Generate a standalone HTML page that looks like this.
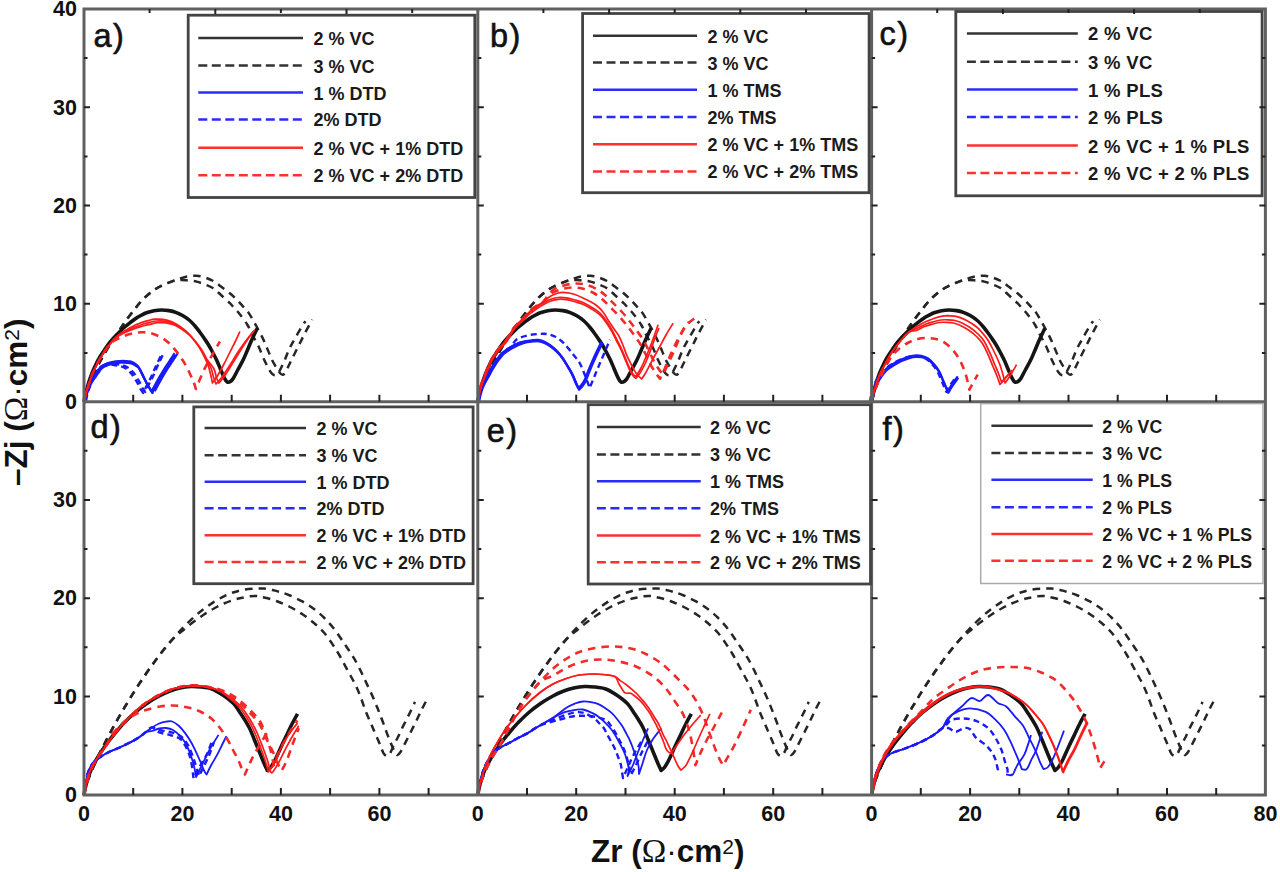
<!DOCTYPE html>
<html><head><meta charset="utf-8"><style>
html,body{margin:0;padding:0;background:#fff;overflow:hidden;width:1280px;height:872px;}
svg{display:block;}
</style></head><body>
<svg width="1280" height="872" viewBox="0 0 1280 872">
<rect width="1280" height="872" fill="#fff"/>
<path d="M84.0 401.7C84.5 399.9 85.8 394.6 87.0 391.0C88.2 387.4 89.5 383.7 91.0 380.0C92.5 376.3 94.2 372.7 96.0 369.0C97.8 365.3 99.8 361.8 102.0 358.0C104.2 354.2 106.3 350.3 109.0 346.0C111.7 341.7 115.5 336.0 118.2 332.0C120.9 328.0 122.5 325.5 125.0 322.0C127.5 318.5 130.5 314.4 133.2 311.0C135.9 307.6 138.2 304.5 141.0 301.5C143.8 298.5 146.6 295.7 149.8 293.2C153.0 290.7 156.4 288.4 160.0 286.5C163.6 284.6 168.1 282.9 171.4 281.6C174.7 280.3 177.2 279.4 180.0 278.5C182.8 277.6 185.2 276.8 188.0 276.4C190.8 275.9 193.8 275.6 196.6 275.8C199.4 276.0 202.2 276.6 205.0 277.5C207.8 278.4 210.6 279.5 213.3 281.0C216.0 282.5 218.2 284.4 221.0 286.5C223.8 288.6 227.2 291.1 229.9 293.3C232.6 295.6 234.8 297.8 237.0 300.0C239.2 302.2 241.3 304.5 243.2 306.6C245.1 308.7 246.4 309.7 248.3 312.4C250.2 315.1 252.3 318.8 254.5 322.7C256.7 326.6 259.6 332.0 261.7 336.1C263.8 340.2 265.1 343.5 266.8 347.5C268.5 351.5 270.5 356.6 272.0 359.9C273.5 363.1 274.8 364.9 276.0 367.0C277.2 369.1 278.4 371.2 279.5 372.5C280.6 373.8 281.5 374.8 282.5 374.8C283.5 374.8 284.3 374.1 285.4 372.5C286.5 370.9 287.8 367.4 289.0 365.0C290.2 362.6 291.0 361.1 292.6 357.8C294.2 354.5 296.7 349.5 298.8 345.4C300.9 341.3 302.8 337.3 305.0 333.0C307.2 328.7 311.1 321.8 312.3 319.6" fill="none" stroke="#262626" stroke-width="2.5" stroke-dasharray="7.5 6" stroke-linejoin="round" stroke-linecap="butt"/>
<path d="M84.0 401.7C84.5 399.9 85.8 394.6 87.0 391.0C88.2 387.4 89.5 383.7 91.0 380.0C92.5 376.3 94.2 372.7 96.0 369.0C97.8 365.3 99.8 361.8 102.0 358.0C104.2 354.2 106.3 350.3 109.0 346.0C111.7 341.7 115.5 336.0 118.2 332.0C120.9 328.0 122.5 325.5 125.0 322.0C127.5 318.5 130.5 314.4 133.2 311.0C135.9 307.6 138.2 304.5 141.0 301.5C143.8 298.5 146.6 295.7 149.8 293.2C153.0 290.7 156.4 288.4 160.0 286.5C163.6 284.6 168.1 282.7 171.4 281.6C174.7 280.5 177.2 280.2 180.0 280.0C182.8 279.8 185.2 280.2 188.0 280.5C190.8 280.8 193.8 280.9 196.6 281.6C199.4 282.3 202.2 283.4 205.0 284.5C207.8 285.6 210.6 286.6 213.3 288.3C216.0 290.1 218.2 292.5 221.0 295.0C223.8 297.5 227.6 300.9 229.9 303.2C232.2 305.5 233.3 307.1 235.0 309.0C236.7 310.9 238.0 311.9 240.0 314.5C242.0 317.1 245.1 321.1 247.2 324.5C249.3 327.9 250.6 331.3 252.5 335.0C254.4 338.7 256.7 342.5 258.6 346.5C260.5 350.5 262.1 355.3 263.7 358.8C265.3 362.3 266.8 365.2 268.0 367.5C269.2 369.8 270.0 371.2 271.0 372.5C272.0 373.8 273.0 374.7 274.0 375.0C275.0 375.3 276.1 375.2 277.0 374.5C277.9 373.8 278.3 373.3 279.5 371.0C280.7 368.7 282.7 364.6 284.4 360.9C286.1 357.1 287.6 352.4 289.5 348.5C291.4 344.6 293.4 341.1 295.7 337.2C297.9 333.2 301.4 327.5 303.0 324.8C304.6 322.1 305.1 321.8 305.5 321.2" fill="none" stroke="#262626" stroke-width="2.5" stroke-dasharray="7.5 6" stroke-linejoin="round" stroke-linecap="butt"/>
<path d="M477.8 401.7C478.3 399.9 479.6 394.6 480.8 391.0C482.0 387.4 483.3 383.7 484.8 380.0C486.3 376.3 488.0 372.7 489.8 369.0C491.6 365.3 493.6 361.8 495.8 358.0C498.0 354.2 500.1 350.3 502.8 346.0C505.5 341.7 509.3 336.0 512.0 332.0C514.7 328.0 516.3 325.5 518.8 322.0C521.3 318.5 524.3 314.4 527.0 311.0C529.7 307.6 532.0 304.5 534.8 301.5C537.6 298.5 540.4 295.7 543.6 293.2C546.8 290.7 550.2 288.4 553.8 286.5C557.4 284.6 561.9 282.9 565.2 281.6C568.5 280.3 571.0 279.4 573.8 278.5C576.6 277.6 579.0 276.8 581.8 276.4C584.6 275.9 587.6 275.6 590.4 275.8C593.2 276.0 596.0 276.6 598.8 277.5C601.6 278.4 604.4 279.5 607.1 281.0C609.8 282.5 612.0 284.4 614.8 286.5C617.6 288.6 621.0 291.1 623.7 293.3C626.4 295.6 628.6 297.8 630.8 300.0C633.0 302.2 635.1 304.5 637.0 306.6C638.9 308.7 640.2 309.7 642.1 312.4C644.0 315.1 646.1 318.8 648.3 322.7C650.5 326.6 653.5 332.0 655.5 336.1C657.5 340.2 658.9 343.5 660.6 347.5C662.3 351.5 664.3 356.6 665.8 359.9C667.3 363.1 668.5 364.9 669.8 367.0C671.0 369.1 672.2 371.2 673.3 372.5C674.4 373.8 675.3 374.8 676.3 374.8C677.3 374.8 678.1 374.1 679.2 372.5C680.3 370.9 681.6 367.4 682.8 365.0C684.0 362.6 684.8 361.1 686.4 357.8C688.0 354.5 690.5 349.5 692.6 345.4C694.7 341.3 696.5 337.3 698.8 333.0C701.0 328.7 704.9 321.8 706.1 319.6" fill="none" stroke="#262626" stroke-width="2.5" stroke-dasharray="7.5 6" stroke-linejoin="round" stroke-linecap="butt"/>
<path d="M477.8 401.7C478.3 399.9 479.6 394.6 480.8 391.0C482.0 387.4 483.3 383.7 484.8 380.0C486.3 376.3 488.0 372.7 489.8 369.0C491.6 365.3 493.6 361.8 495.8 358.0C498.0 354.2 500.1 350.3 502.8 346.0C505.5 341.7 509.3 336.0 512.0 332.0C514.7 328.0 516.3 325.5 518.8 322.0C521.3 318.5 524.3 314.4 527.0 311.0C529.7 307.6 532.0 304.5 534.8 301.5C537.6 298.5 540.4 295.7 543.6 293.2C546.8 290.7 550.2 288.4 553.8 286.5C557.4 284.6 561.9 282.7 565.2 281.6C568.5 280.5 571.0 280.2 573.8 280.0C576.6 279.8 579.0 280.2 581.8 280.5C584.6 280.8 587.6 280.9 590.4 281.6C593.2 282.3 596.0 283.4 598.8 284.5C601.6 285.6 604.4 286.6 607.1 288.3C609.8 290.1 612.0 292.5 614.8 295.0C617.6 297.5 621.4 300.9 623.7 303.2C626.0 305.5 627.1 307.1 628.8 309.0C630.5 310.9 631.8 311.9 633.8 314.5C635.8 317.1 638.9 321.1 641.0 324.5C643.1 327.9 644.4 331.3 646.3 335.0C648.2 338.7 650.5 342.5 652.4 346.5C654.3 350.5 655.9 355.3 657.5 358.8C659.1 362.3 660.6 365.2 661.8 367.5C663.0 369.8 663.8 371.2 664.8 372.5C665.8 373.8 666.8 374.7 667.8 375.0C668.8 375.3 669.9 375.2 670.8 374.5C671.7 373.8 672.1 373.3 673.3 371.0C674.5 368.7 676.5 364.6 678.2 360.9C679.9 357.1 681.4 352.4 683.3 348.5C685.2 344.6 687.2 341.1 689.5 337.2C691.8 333.2 695.2 327.5 696.8 324.8C698.4 322.1 698.9 321.8 699.3 321.2" fill="none" stroke="#262626" stroke-width="2.5" stroke-dasharray="7.5 6" stroke-linejoin="round" stroke-linecap="butt"/>
<path d="M871.6 401.7C872.1 399.9 873.4 394.6 874.6 391.0C875.8 387.4 877.1 383.7 878.6 380.0C880.1 376.3 881.8 372.7 883.6 369.0C885.4 365.3 887.4 361.8 889.6 358.0C891.8 354.2 893.9 350.3 896.6 346.0C899.3 341.7 903.1 336.0 905.8 332.0C908.5 328.0 910.1 325.5 912.6 322.0C915.1 318.5 918.1 314.4 920.8 311.0C923.5 307.6 925.8 304.5 928.6 301.5C931.4 298.5 934.2 295.7 937.4 293.2C940.6 290.7 944.0 288.4 947.6 286.5C951.2 284.6 955.7 282.9 959.0 281.6C962.3 280.3 964.8 279.4 967.6 278.5C970.4 277.6 972.8 276.8 975.6 276.4C978.4 275.9 981.4 275.6 984.2 275.8C987.0 276.0 989.8 276.6 992.6 277.5C995.4 278.4 998.2 279.5 1000.9 281.0C1003.6 282.5 1005.8 284.4 1008.6 286.5C1011.4 288.6 1014.8 291.1 1017.5 293.3C1020.2 295.6 1022.4 297.8 1024.6 300.0C1026.8 302.2 1028.9 304.5 1030.8 306.6C1032.7 308.7 1034.0 309.7 1035.9 312.4C1037.8 315.1 1039.9 318.8 1042.1 322.7C1044.3 326.6 1047.2 332.0 1049.3 336.1C1051.3 340.2 1052.7 343.5 1054.4 347.5C1056.1 351.5 1058.1 356.6 1059.6 359.9C1061.1 363.1 1062.3 364.9 1063.6 367.0C1064.8 369.1 1066.0 371.2 1067.1 372.5C1068.2 373.8 1069.1 374.8 1070.1 374.8C1071.1 374.8 1071.9 374.1 1073.0 372.5C1074.1 370.9 1075.4 367.4 1076.6 365.0C1077.8 362.6 1078.6 361.1 1080.2 357.8C1081.8 354.5 1084.3 349.5 1086.4 345.4C1088.5 341.3 1090.3 337.3 1092.6 333.0C1094.8 328.7 1098.7 321.8 1099.9 319.6" fill="none" stroke="#262626" stroke-width="2.5" stroke-dasharray="7.5 6" stroke-linejoin="round" stroke-linecap="butt"/>
<path d="M871.6 401.7C872.1 399.9 873.4 394.6 874.6 391.0C875.8 387.4 877.1 383.7 878.6 380.0C880.1 376.3 881.8 372.7 883.6 369.0C885.4 365.3 887.4 361.8 889.6 358.0C891.8 354.2 893.9 350.3 896.6 346.0C899.3 341.7 903.1 336.0 905.8 332.0C908.5 328.0 910.1 325.5 912.6 322.0C915.1 318.5 918.1 314.4 920.8 311.0C923.5 307.6 925.8 304.5 928.6 301.5C931.4 298.5 934.2 295.7 937.4 293.2C940.6 290.7 944.0 288.4 947.6 286.5C951.2 284.6 955.7 282.7 959.0 281.6C962.3 280.5 964.8 280.2 967.6 280.0C970.4 279.8 972.8 280.2 975.6 280.5C978.4 280.8 981.4 280.9 984.2 281.6C987.0 282.3 989.8 283.4 992.6 284.5C995.4 285.6 998.2 286.6 1000.9 288.3C1003.6 290.1 1005.8 292.5 1008.6 295.0C1011.4 297.5 1015.2 300.9 1017.5 303.2C1019.8 305.5 1020.9 307.1 1022.6 309.0C1024.3 310.9 1025.6 311.9 1027.6 314.5C1029.6 317.1 1032.7 321.1 1034.8 324.5C1036.9 327.9 1038.2 331.3 1040.1 335.0C1042.0 338.7 1044.3 342.5 1046.2 346.5C1048.1 350.5 1049.7 355.3 1051.3 358.8C1052.9 362.3 1054.4 365.2 1055.6 367.5C1056.8 369.8 1057.6 371.2 1058.6 372.5C1059.6 373.8 1060.6 374.7 1061.6 375.0C1062.6 375.3 1063.7 375.2 1064.6 374.5C1065.5 373.8 1065.9 373.3 1067.1 371.0C1068.3 368.7 1070.3 364.6 1072.0 360.9C1073.7 357.1 1075.2 352.4 1077.1 348.5C1079.0 344.6 1081.0 341.1 1083.3 337.2C1085.5 333.2 1089.0 327.5 1090.6 324.8C1092.2 322.1 1092.7 321.8 1093.1 321.2" fill="none" stroke="#262626" stroke-width="2.5" stroke-dasharray="7.5 6" stroke-linejoin="round" stroke-linecap="butt"/>
<path d="M84.0 795.0C84.3 793.4 85.2 788.5 86.0 785.5C86.8 782.5 87.7 780.6 89.0 777.2C90.3 773.9 92.3 769.1 94.0 765.4C95.7 761.6 97.3 758.2 99.0 754.7C100.7 751.2 102.0 748.6 104.0 744.7C106.0 740.8 108.7 735.6 111.0 731.3C113.3 727.0 115.7 722.8 118.0 718.7C120.3 714.6 122.7 710.6 125.0 706.7C127.3 702.8 129.7 699.0 132.0 695.2C134.3 691.5 136.7 687.8 139.0 684.2C141.3 680.6 143.7 677.2 146.0 673.8C148.3 670.4 150.7 667.1 153.0 663.9C155.3 660.7 157.5 657.7 160.0 654.5C162.5 651.3 165.3 647.7 168.0 644.5C170.7 641.3 173.3 638.2 176.0 635.2C178.7 632.2 181.0 629.7 184.0 626.7C187.0 623.7 190.7 620.1 194.0 617.1C197.3 614.1 200.7 611.3 204.0 608.8C207.3 606.3 210.7 604.0 214.0 601.9C217.3 599.8 220.7 597.9 224.0 596.3C227.3 594.7 230.7 593.3 234.0 592.2C237.3 591.1 240.3 590.2 244.0 589.6C247.7 589.0 252.7 588.8 256.0 588.6C259.3 588.4 261.3 588.4 264.0 588.6C266.7 588.8 269.3 589.4 272.0 590.0C274.7 590.6 277.0 591.1 280.0 592.0C283.0 592.9 286.2 593.9 290.0 595.5C293.8 597.1 298.8 599.5 302.8 601.7C306.8 604.0 310.5 606.4 314.0 609.0C317.5 611.6 320.7 614.4 323.9 617.5C327.1 620.6 330.0 623.8 333.0 627.5C336.0 631.2 339.4 636.4 341.9 640.0C344.4 643.6 346.0 646.0 348.0 649.0C350.0 652.0 351.8 654.5 353.8 657.9C355.8 661.3 358.0 665.5 360.0 669.5C362.0 673.5 363.8 677.5 365.8 681.7C367.8 686.0 370.0 690.5 372.0 695.0C374.0 699.5 375.9 704.3 377.7 708.6C379.4 712.9 381.0 717.0 382.5 721.0C384.0 725.0 385.4 729.1 386.6 732.4C387.8 735.6 388.8 738.0 389.8 740.5C390.8 743.0 391.7 745.3 392.6 747.3C393.5 749.3 394.2 751.2 395.0 752.5C395.8 753.8 396.6 755.1 397.5 755.0C398.4 754.9 399.3 753.8 400.5 752.0C401.7 750.2 402.8 747.5 404.5 744.3C406.2 741.0 408.5 736.5 410.5 732.5C412.5 728.5 414.7 724.2 416.5 720.5C418.3 716.8 419.8 713.5 421.5 710.0C423.2 706.5 426.0 701.3 426.9 699.6" fill="none" stroke="#262626" stroke-width="2.5" stroke-dasharray="7.5 6" stroke-linejoin="round" stroke-linecap="butt"/>
<path d="M84.0 795.0C84.3 793.4 85.2 788.5 86.0 785.5C86.8 782.5 87.7 780.6 89.0 777.2C90.3 773.9 92.3 769.1 94.0 765.4C95.7 761.6 97.3 758.2 99.0 754.7C100.7 751.2 102.0 748.6 104.0 744.7C106.0 740.8 108.7 735.6 111.0 731.3C113.3 727.0 115.7 722.8 118.0 718.7C120.3 714.6 122.7 710.6 125.0 706.7C127.3 702.8 129.7 699.0 132.0 695.2C134.3 691.5 136.7 687.8 139.0 684.2C141.3 680.6 143.7 677.2 146.0 673.8C148.3 670.4 150.7 667.1 153.0 663.9C155.3 660.7 157.5 657.7 160.0 654.5C162.5 651.3 165.3 647.6 168.0 644.5C170.7 641.4 173.3 638.5 176.0 636.0C178.7 633.5 181.0 631.9 184.0 629.5C187.0 627.1 190.7 624.0 194.0 621.5C197.3 619.0 200.7 616.7 204.0 614.5C207.3 612.3 210.7 610.3 214.0 608.5C217.3 606.7 220.7 605.0 224.0 603.5C227.3 602.0 231.2 600.7 234.0 599.8C236.8 598.9 238.6 598.5 241.0 598.0C243.4 597.5 246.2 596.8 248.7 596.5C251.2 596.2 253.4 595.8 256.0 596.0C258.6 596.2 260.6 596.7 264.0 597.5C267.4 598.3 272.1 599.4 276.4 601.0C280.7 602.6 285.6 604.8 290.0 607.0C294.4 609.2 298.8 611.8 302.8 614.5C306.8 617.2 310.5 620.0 314.0 623.0C317.5 626.0 320.7 628.8 323.9 632.5C327.1 636.2 330.5 641.3 333.0 645.0C335.5 648.7 337.0 651.1 339.0 654.5C341.0 657.9 342.9 661.6 344.9 665.3C346.9 669.0 349.0 672.8 351.0 676.5C353.0 680.2 355.1 683.9 356.8 687.7C358.6 691.5 360.0 695.5 361.5 699.5C363.0 703.5 364.3 707.7 365.8 711.5C367.3 715.3 369.0 719.0 370.5 722.5C372.0 726.0 373.4 729.3 374.7 732.4C376.0 735.5 377.4 738.3 378.5 741.0C379.6 743.7 380.6 746.3 381.5 748.5C382.4 750.7 383.0 752.8 384.0 754.0C385.0 755.2 386.4 756.2 387.5 756.0C388.6 755.8 389.4 754.4 390.5 752.5C391.6 750.6 392.8 747.1 394.0 744.5C395.2 741.9 396.8 739.5 398.0 737.0C399.2 734.5 400.2 732.1 401.5 729.4C402.8 726.6 404.5 723.5 406.0 720.5C407.5 717.5 409.0 714.6 410.5 711.5C412.0 708.4 414.2 703.5 415.0 701.9" fill="none" stroke="#262626" stroke-width="2.5" stroke-dasharray="7.5 6" stroke-linejoin="round" stroke-linecap="butt"/>
<path d="M477.8 795.0C478.1 793.4 479.0 788.5 479.8 785.5C480.6 782.5 481.5 780.6 482.8 777.2C484.1 773.9 486.1 769.1 487.8 765.4C489.5 761.6 491.1 758.2 492.8 754.7C494.5 751.2 495.8 748.6 497.8 744.7C499.8 740.8 502.5 735.6 504.8 731.3C507.1 727.0 509.5 722.8 511.8 718.7C514.1 714.6 516.5 710.6 518.8 706.7C521.1 702.8 523.5 699.0 525.8 695.2C528.1 691.5 530.5 687.8 532.8 684.2C535.1 680.6 537.5 677.2 539.8 673.8C542.1 670.4 544.5 667.1 546.8 663.9C549.1 660.7 551.3 657.7 553.8 654.5C556.3 651.3 559.1 647.7 561.8 644.5C564.5 641.3 567.1 638.2 569.8 635.2C572.5 632.2 574.8 629.7 577.8 626.7C580.8 623.7 584.5 620.1 587.8 617.1C591.1 614.1 594.5 611.3 597.8 608.8C601.1 606.3 604.5 604.0 607.8 601.9C611.1 599.8 614.5 597.9 617.8 596.3C621.1 594.7 624.5 593.3 627.8 592.2C631.1 591.1 634.1 590.2 637.8 589.6C641.5 589.0 646.5 588.8 649.8 588.6C653.1 588.4 655.1 588.4 657.8 588.6C660.5 588.8 663.1 589.4 665.8 590.0C668.5 590.6 670.8 591.1 673.8 592.0C676.8 592.9 680.0 593.9 683.8 595.5C687.6 597.1 692.6 599.5 696.6 601.7C700.6 604.0 704.3 606.4 707.8 609.0C711.3 611.6 714.5 614.4 717.7 617.5C720.9 620.6 723.8 623.8 726.8 627.5C729.8 631.2 733.2 636.4 735.7 640.0C738.2 643.6 739.8 646.0 741.8 649.0C743.8 652.0 745.6 654.5 747.6 657.9C749.6 661.3 751.8 665.5 753.8 669.5C755.8 673.5 757.6 677.5 759.6 681.7C761.6 686.0 763.8 690.5 765.8 695.0C767.8 699.5 769.8 704.3 771.5 708.6C773.2 712.9 774.8 717.0 776.3 721.0C777.8 725.0 779.2 729.1 780.4 732.4C781.6 735.6 782.6 738.0 783.6 740.5C784.6 743.0 785.5 745.3 786.4 747.3C787.3 749.3 788.0 751.2 788.8 752.5C789.6 753.8 790.4 755.1 791.3 755.0C792.2 754.9 793.1 753.8 794.3 752.0C795.5 750.2 796.6 747.5 798.3 744.3C800.0 741.0 802.3 736.5 804.3 732.5C806.3 728.5 808.5 724.2 810.3 720.5C812.1 716.8 813.6 713.5 815.3 710.0C817.0 706.5 819.8 701.3 820.7 699.6" fill="none" stroke="#262626" stroke-width="2.5" stroke-dasharray="7.5 6" stroke-linejoin="round" stroke-linecap="butt"/>
<path d="M477.8 795.0C478.1 793.4 479.0 788.5 479.8 785.5C480.6 782.5 481.5 780.6 482.8 777.2C484.1 773.9 486.1 769.1 487.8 765.4C489.5 761.6 491.1 758.2 492.8 754.7C494.5 751.2 495.8 748.6 497.8 744.7C499.8 740.8 502.5 735.6 504.8 731.3C507.1 727.0 509.5 722.8 511.8 718.7C514.1 714.6 516.5 710.6 518.8 706.7C521.1 702.8 523.5 699.0 525.8 695.2C528.1 691.5 530.5 687.8 532.8 684.2C535.1 680.6 537.5 677.2 539.8 673.8C542.1 670.4 544.5 667.1 546.8 663.9C549.1 660.7 551.3 657.7 553.8 654.5C556.3 651.3 559.1 647.6 561.8 644.5C564.5 641.4 567.1 638.5 569.8 636.0C572.5 633.5 574.8 631.9 577.8 629.5C580.8 627.1 584.5 624.0 587.8 621.5C591.1 619.0 594.5 616.7 597.8 614.5C601.1 612.3 604.5 610.3 607.8 608.5C611.1 606.7 614.5 605.0 617.8 603.5C621.1 602.0 625.0 600.7 627.8 599.8C630.6 598.9 632.3 598.5 634.8 598.0C637.2 597.5 640.0 596.8 642.5 596.5C645.0 596.2 647.2 595.8 649.8 596.0C652.3 596.2 654.4 596.7 657.8 597.5C661.2 598.3 665.9 599.4 670.2 601.0C674.5 602.6 679.4 604.8 683.8 607.0C688.2 609.2 692.6 611.8 696.6 614.5C700.6 617.2 704.3 620.0 707.8 623.0C711.3 626.0 714.5 628.8 717.7 632.5C720.9 636.2 724.3 641.3 726.8 645.0C729.3 648.7 730.8 651.1 732.8 654.5C734.8 657.9 736.7 661.6 738.7 665.3C740.7 669.0 742.8 672.8 744.8 676.5C746.8 680.2 748.9 683.9 750.6 687.7C752.4 691.5 753.8 695.5 755.3 699.5C756.8 703.5 758.1 707.7 759.6 711.5C761.1 715.3 762.8 719.0 764.3 722.5C765.8 726.0 767.2 729.3 768.5 732.4C769.8 735.5 771.2 738.3 772.3 741.0C773.4 743.7 774.4 746.3 775.3 748.5C776.2 750.7 776.8 752.8 777.8 754.0C778.8 755.2 780.2 756.2 781.3 756.0C782.4 755.8 783.2 754.4 784.3 752.5C785.4 750.6 786.5 747.1 787.8 744.5C789.0 741.9 790.5 739.5 791.8 737.0C793.0 734.5 794.0 732.1 795.3 729.4C796.6 726.6 798.3 723.5 799.8 720.5C801.3 717.5 802.8 714.6 804.3 711.5C805.8 708.4 808.0 703.5 808.8 701.9" fill="none" stroke="#262626" stroke-width="2.5" stroke-dasharray="7.5 6" stroke-linejoin="round" stroke-linecap="butt"/>
<path d="M871.6 795.0C871.9 793.4 872.8 788.5 873.6 785.5C874.4 782.5 875.3 780.6 876.6 777.2C877.9 773.9 879.9 769.1 881.6 765.4C883.3 761.6 884.9 758.2 886.6 754.7C888.3 751.2 889.6 748.6 891.6 744.7C893.6 740.8 896.3 735.6 898.6 731.3C900.9 727.0 903.3 722.8 905.6 718.7C907.9 714.6 910.3 710.6 912.6 706.7C914.9 702.8 917.3 699.0 919.6 695.2C921.9 691.5 924.3 687.8 926.6 684.2C928.9 680.6 931.3 677.2 933.6 673.8C935.9 670.4 938.3 667.1 940.6 663.9C942.9 660.7 945.1 657.7 947.6 654.5C950.1 651.3 952.9 647.7 955.6 644.5C958.3 641.3 960.9 638.2 963.6 635.2C966.3 632.2 968.6 629.7 971.6 626.7C974.6 623.7 978.3 620.1 981.6 617.1C984.9 614.1 988.3 611.3 991.6 608.8C994.9 606.3 998.3 604.0 1001.6 601.9C1004.9 599.8 1008.3 597.9 1011.6 596.3C1014.9 594.7 1018.3 593.3 1021.6 592.2C1024.9 591.1 1027.9 590.2 1031.6 589.6C1035.3 589.0 1040.3 588.8 1043.6 588.6C1046.9 588.4 1048.9 588.4 1051.6 588.6C1054.3 588.8 1056.9 589.4 1059.6 590.0C1062.3 590.6 1064.6 591.1 1067.6 592.0C1070.6 592.9 1073.8 593.9 1077.6 595.5C1081.4 597.1 1086.4 599.5 1090.4 601.7C1094.4 604.0 1098.1 606.4 1101.6 609.0C1105.1 611.6 1108.3 614.4 1111.5 617.5C1114.7 620.6 1117.6 623.8 1120.6 627.5C1123.6 631.2 1127.0 636.4 1129.5 640.0C1132.0 643.6 1133.6 646.0 1135.6 649.0C1137.6 652.0 1139.4 654.5 1141.4 657.9C1143.4 661.3 1145.6 665.5 1147.6 669.5C1149.6 673.5 1151.4 677.5 1153.4 681.7C1155.4 686.0 1157.6 690.5 1159.6 695.0C1161.6 699.5 1163.5 704.3 1165.3 708.6C1167.0 712.9 1168.6 717.0 1170.1 721.0C1171.6 725.0 1173.0 729.1 1174.2 732.4C1175.4 735.6 1176.4 738.0 1177.4 740.5C1178.4 743.0 1179.3 745.3 1180.2 747.3C1181.1 749.3 1181.8 751.2 1182.6 752.5C1183.4 753.8 1184.2 755.1 1185.1 755.0C1186.0 754.9 1186.9 753.8 1188.1 752.0C1189.3 750.2 1190.4 747.5 1192.1 744.3C1193.8 741.0 1196.1 736.5 1198.1 732.5C1200.1 728.5 1202.3 724.2 1204.1 720.5C1205.9 716.8 1207.4 713.5 1209.1 710.0C1210.8 706.5 1213.6 701.3 1214.5 699.6" fill="none" stroke="#262626" stroke-width="2.5" stroke-dasharray="7.5 6" stroke-linejoin="round" stroke-linecap="butt"/>
<path d="M871.6 795.0C871.9 793.4 872.8 788.5 873.6 785.5C874.4 782.5 875.3 780.6 876.6 777.2C877.9 773.9 879.9 769.1 881.6 765.4C883.3 761.6 884.9 758.2 886.6 754.7C888.3 751.2 889.6 748.6 891.6 744.7C893.6 740.8 896.3 735.6 898.6 731.3C900.9 727.0 903.3 722.8 905.6 718.7C907.9 714.6 910.3 710.6 912.6 706.7C914.9 702.8 917.3 699.0 919.6 695.2C921.9 691.5 924.3 687.8 926.6 684.2C928.9 680.6 931.3 677.2 933.6 673.8C935.9 670.4 938.3 667.1 940.6 663.9C942.9 660.7 945.1 657.7 947.6 654.5C950.1 651.3 952.9 647.6 955.6 644.5C958.3 641.4 960.9 638.5 963.6 636.0C966.3 633.5 968.6 631.9 971.6 629.5C974.6 627.1 978.3 624.0 981.6 621.5C984.9 619.0 988.3 616.7 991.6 614.5C994.9 612.3 998.3 610.3 1001.6 608.5C1004.9 606.7 1008.3 605.0 1011.6 603.5C1014.9 602.0 1018.8 600.7 1021.6 599.8C1024.4 598.9 1026.1 598.5 1028.6 598.0C1031.0 597.5 1033.8 596.8 1036.3 596.5C1038.8 596.2 1041.0 595.8 1043.6 596.0C1046.1 596.2 1048.2 596.7 1051.6 597.5C1055.0 598.3 1059.7 599.4 1064.0 601.0C1068.3 602.6 1073.2 604.8 1077.6 607.0C1082.0 609.2 1086.4 611.8 1090.4 614.5C1094.4 617.2 1098.1 620.0 1101.6 623.0C1105.1 626.0 1108.3 628.8 1111.5 632.5C1114.7 636.2 1118.1 641.3 1120.6 645.0C1123.1 648.7 1124.6 651.1 1126.6 654.5C1128.6 657.9 1130.5 661.6 1132.5 665.3C1134.5 669.0 1136.6 672.8 1138.6 676.5C1140.6 680.2 1142.7 683.9 1144.4 687.7C1146.2 691.5 1147.6 695.5 1149.1 699.5C1150.6 703.5 1151.9 707.7 1153.4 711.5C1154.9 715.3 1156.6 719.0 1158.1 722.5C1159.6 726.0 1161.0 729.3 1162.3 732.4C1163.6 735.5 1165.0 738.3 1166.1 741.0C1167.2 743.7 1168.2 746.3 1169.1 748.5C1170.0 750.7 1170.6 752.8 1171.6 754.0C1172.6 755.2 1174.0 756.2 1175.1 756.0C1176.2 755.8 1177.0 754.4 1178.1 752.5C1179.2 750.6 1180.3 747.1 1181.6 744.5C1182.8 741.9 1184.3 739.5 1185.6 737.0C1186.8 734.5 1187.8 732.1 1189.1 729.4C1190.4 726.6 1192.1 723.5 1193.6 720.5C1195.1 717.5 1196.6 714.6 1198.1 711.5C1199.6 708.4 1201.8 703.5 1202.6 701.9" fill="none" stroke="#262626" stroke-width="2.5" stroke-dasharray="7.5 6" stroke-linejoin="round" stroke-linecap="butt"/>
<path d="M84.0 401.7C84.2 400.4 84.9 396.5 85.5 394.0C86.1 391.5 86.8 388.8 87.5 386.5C88.2 384.2 88.8 382.0 89.5 380.0C90.2 378.0 90.8 376.4 91.5 374.5C92.2 372.6 93.2 370.3 94.0 368.5C94.8 366.7 95.6 365.2 96.4 363.5C97.2 361.8 98.2 360.0 99.0 358.5C99.8 357.0 100.6 355.9 101.5 354.5C102.4 353.1 103.5 351.5 104.5 350.0C105.5 348.5 106.4 347.0 107.5 345.5C108.6 344.0 109.8 342.4 111.0 341.0C112.2 339.6 113.3 338.2 114.5 337.0C115.7 335.8 116.8 334.7 118.0 333.5C119.2 332.3 120.3 331.2 121.5 330.0C122.7 328.8 124.0 327.7 125.4 326.5C126.8 325.3 128.5 323.9 129.9 322.8C131.3 321.7 132.7 320.7 134.0 319.7C135.3 318.7 136.7 317.8 138.0 317.0C139.3 316.2 140.6 315.5 142.0 314.8C143.4 314.1 144.5 313.5 146.5 312.8C148.5 312.1 151.5 311.3 154.0 310.8C156.5 310.3 158.9 310.0 161.4 310.0C163.9 310.0 166.5 310.2 169.0 310.6C171.5 311.0 174.1 311.7 176.4 312.6C178.7 313.5 180.8 314.5 183.0 315.8C185.2 317.1 187.7 318.8 189.7 320.5C191.7 322.2 193.3 324.1 195.0 326.0C196.7 327.9 198.2 330.0 199.7 332.0C201.2 334.0 202.6 335.9 204.0 338.0C205.4 340.1 206.9 342.2 208.3 344.5C209.7 346.8 211.1 349.4 212.5 352.0C213.9 354.6 215.3 357.3 216.6 360.0C217.8 362.7 218.9 365.4 220.0 368.0C221.1 370.6 222.3 373.5 223.2 375.5C224.1 377.5 224.8 378.9 225.5 380.0C226.2 381.1 227.1 381.8 227.4 382.2C227.8 382.1 229.0 382.4 230.0 381.8C231.0 381.2 231.9 380.6 233.2 378.5C234.5 376.4 236.3 372.6 238.0 369.5C239.7 366.4 241.6 363.1 243.2 359.8C244.8 356.6 246.1 353.2 247.5 350.0C248.9 346.8 249.9 344.1 251.5 340.5C253.1 336.9 256.3 330.2 257.3 328.2" fill="none" stroke="#151515" stroke-width="3.6" stroke-linejoin="round" stroke-linecap="butt"/>
<path d="M477.8 401.7C478.1 400.4 478.7 396.5 479.3 394.0C479.9 391.5 480.6 388.8 481.3 386.5C482.0 384.2 482.6 382.0 483.3 380.0C484.0 378.0 484.6 376.4 485.3 374.5C486.1 372.6 487.0 370.3 487.8 368.5C488.6 366.7 489.4 365.2 490.2 363.5C491.0 361.8 492.0 360.0 492.8 358.5C493.6 357.0 494.4 355.9 495.3 354.5C496.2 353.1 497.3 351.5 498.3 350.0C499.3 348.5 500.2 347.0 501.3 345.5C502.4 344.0 503.6 342.4 504.8 341.0C506.0 339.6 507.1 338.2 508.3 337.0C509.5 335.8 510.6 334.7 511.8 333.5C513.0 332.3 514.1 331.2 515.3 330.0C516.5 328.8 517.8 327.7 519.2 326.5C520.6 325.3 522.3 323.9 523.7 322.8C525.1 321.7 526.4 320.7 527.8 319.7C529.1 318.7 530.5 317.8 531.8 317.0C533.1 316.2 534.4 315.5 535.8 314.8C537.2 314.1 538.3 313.5 540.3 312.8C542.3 312.1 545.3 311.3 547.8 310.8C550.3 310.3 552.7 310.0 555.2 310.0C557.7 310.0 560.3 310.2 562.8 310.6C565.3 311.0 567.9 311.7 570.2 312.6C572.5 313.5 574.6 314.5 576.8 315.8C579.0 317.1 581.5 318.8 583.5 320.5C585.5 322.2 587.1 324.1 588.8 326.0C590.5 327.9 592.0 330.0 593.5 332.0C595.0 334.0 596.4 335.9 597.8 338.0C599.2 340.1 600.7 342.2 602.1 344.5C603.5 346.8 604.9 349.4 606.3 352.0C607.7 354.6 609.1 357.3 610.4 360.0C611.6 362.7 612.7 365.4 613.8 368.0C614.9 370.6 616.1 373.5 617.0 375.5C617.9 377.5 618.6 378.9 619.3 380.0C620.0 381.1 620.9 381.8 621.2 382.2C621.6 382.1 622.8 382.4 623.8 381.8C624.8 381.2 625.7 380.6 627.0 378.5C628.3 376.4 630.1 372.6 631.8 369.5C633.5 366.4 635.4 363.1 637.0 359.8C638.6 356.6 639.9 353.2 641.3 350.0C642.7 346.8 643.7 344.1 645.3 340.5C646.9 336.9 650.1 330.2 651.1 328.2" fill="none" stroke="#151515" stroke-width="3.6" stroke-linejoin="round" stroke-linecap="butt"/>
<path d="M871.6 401.7C871.9 400.4 872.5 396.5 873.1 394.0C873.7 391.5 874.4 388.8 875.1 386.5C875.8 384.2 876.4 382.0 877.1 380.0C877.8 378.0 878.4 376.4 879.1 374.5C879.9 372.6 880.8 370.3 881.6 368.5C882.4 366.7 883.2 365.2 884.0 363.5C884.8 361.8 885.8 360.0 886.6 358.5C887.5 357.0 888.2 355.9 889.1 354.5C890.0 353.1 891.1 351.5 892.1 350.0C893.1 348.5 894.0 347.0 895.1 345.5C896.2 344.0 897.4 342.4 898.6 341.0C899.8 339.6 900.9 338.2 902.1 337.0C903.3 335.8 904.4 334.7 905.6 333.5C906.8 332.3 907.9 331.2 909.1 330.0C910.3 328.8 911.6 327.7 913.0 326.5C914.4 325.3 916.1 323.9 917.5 322.8C918.9 321.7 920.2 320.7 921.6 319.7C923.0 318.7 924.3 317.8 925.6 317.0C926.9 316.2 928.2 315.5 929.6 314.8C931.0 314.1 932.1 313.5 934.1 312.8C936.1 312.1 939.1 311.3 941.6 310.8C944.1 310.3 946.5 310.0 949.0 310.0C951.5 310.0 954.1 310.2 956.6 310.6C959.1 311.0 961.7 311.7 964.0 312.6C966.3 313.5 968.4 314.5 970.6 315.8C972.8 317.1 975.3 318.8 977.3 320.5C979.3 322.2 980.9 324.1 982.6 326.0C984.3 327.9 985.8 330.0 987.3 332.0C988.8 334.0 990.2 335.9 991.6 338.0C993.0 340.1 994.5 342.2 995.9 344.5C997.3 346.8 998.7 349.4 1000.1 352.0C1001.5 354.6 1003.0 357.3 1004.2 360.0C1005.5 362.7 1006.5 365.4 1007.6 368.0C1008.7 370.6 1009.9 373.5 1010.8 375.5C1011.7 377.5 1012.4 378.9 1013.1 380.0C1013.8 381.1 1014.7 381.8 1015.0 382.2C1015.4 382.1 1016.6 382.4 1017.6 381.8C1018.6 381.2 1019.5 380.6 1020.8 378.5C1022.1 376.4 1023.9 372.6 1025.6 369.5C1027.3 366.4 1029.2 363.1 1030.8 359.8C1032.4 356.6 1033.7 353.2 1035.1 350.0C1036.5 346.8 1037.5 344.1 1039.1 340.5C1040.7 336.9 1043.9 330.2 1044.9 328.2" fill="none" stroke="#151515" stroke-width="3.6" stroke-linejoin="round" stroke-linecap="butt"/>
<path d="M84.0 795.0C84.2 793.7 84.8 789.8 85.5 787.0C86.2 784.2 87.1 780.8 88.0 778.0C88.9 775.2 89.8 772.7 91.0 770.0C92.2 767.3 93.3 765.0 95.0 762.0C96.7 759.0 98.8 755.3 101.0 752.0C103.2 748.7 105.5 745.3 108.0 742.0C110.5 738.7 113.2 735.3 116.0 732.0C118.8 728.7 121.8 725.2 125.0 722.0C128.2 718.8 131.5 715.5 135.0 712.5C138.5 709.5 142.0 706.8 146.0 704.0C150.0 701.2 155.2 698.2 159.2 696.0C163.2 693.8 166.5 692.3 170.0 691.0C173.5 689.7 176.5 688.8 180.0 688.0C183.5 687.2 187.3 686.7 190.8 686.5C194.3 686.3 197.5 686.6 201.0 687.0C204.5 687.4 208.4 687.8 211.9 689.0C215.4 690.2 218.5 692.2 222.0 694.5C225.5 696.8 229.8 699.8 233.0 703.0C236.2 706.2 238.3 710.0 241.0 714.0C243.7 718.0 246.7 722.7 248.9 727.0C251.2 731.3 252.8 735.8 254.5 740.0C256.2 744.2 257.9 748.3 259.4 752.0C260.9 755.7 262.2 758.9 263.5 762.0C264.8 765.1 266.7 769.1 267.3 770.5C267.9 769.9 269.7 768.8 271.0 767.0C272.3 765.2 273.6 762.8 275.3 759.5C277.0 756.2 279.1 751.2 281.0 747.0C282.9 742.8 285.2 738.3 287.0 734.5C288.8 730.7 290.2 727.5 292.0 724.0C293.8 720.5 296.6 715.5 297.5 713.8" fill="none" stroke="#151515" stroke-width="3.6" stroke-linejoin="round" stroke-linecap="butt"/>
<path d="M477.8 795.0C478.1 793.7 478.6 789.8 479.3 787.0C480.0 784.2 480.9 780.8 481.8 778.0C482.7 775.2 483.6 772.7 484.8 770.0C486.0 767.3 487.1 765.0 488.8 762.0C490.5 759.0 492.6 755.3 494.8 752.0C497.0 748.7 499.3 745.3 501.8 742.0C504.3 738.7 507.0 735.3 509.8 732.0C512.6 728.7 515.6 725.2 518.8 722.0C522.0 718.8 525.3 715.5 528.8 712.5C532.3 709.5 535.8 706.8 539.8 704.0C543.8 701.2 549.0 698.2 553.0 696.0C557.0 693.8 560.3 692.3 563.8 691.0C567.3 689.7 570.3 688.8 573.8 688.0C577.3 687.2 581.1 686.7 584.6 686.5C588.1 686.3 591.3 686.6 594.8 687.0C598.3 687.4 602.2 687.8 605.7 689.0C609.2 690.2 612.3 692.2 615.8 694.5C619.3 696.8 623.6 699.8 626.8 703.0C630.0 706.2 632.1 710.0 634.8 714.0C637.4 718.0 640.5 722.7 642.7 727.0C645.0 731.3 646.5 735.8 648.3 740.0C650.0 744.2 651.7 748.3 653.2 752.0C654.7 755.7 656.0 758.9 657.3 762.0C658.6 765.1 660.5 769.1 661.1 770.5C661.7 769.9 663.5 768.8 664.8 767.0C666.1 765.2 667.4 762.8 669.1 759.5C670.8 756.2 672.8 751.2 674.8 747.0C676.8 742.8 679.0 738.3 680.8 734.5C682.6 730.7 684.0 727.5 685.8 724.0C687.5 720.5 690.4 715.5 691.3 713.8" fill="none" stroke="#151515" stroke-width="3.6" stroke-linejoin="round" stroke-linecap="butt"/>
<path d="M871.6 795.0C871.9 793.7 872.4 789.8 873.1 787.0C873.8 784.2 874.7 780.8 875.6 778.0C876.5 775.2 877.4 772.7 878.6 770.0C879.8 767.3 880.9 765.0 882.6 762.0C884.3 759.0 886.4 755.3 888.6 752.0C890.8 748.7 893.1 745.3 895.6 742.0C898.1 738.7 900.8 735.3 903.6 732.0C906.4 728.7 909.4 725.2 912.6 722.0C915.8 718.8 919.1 715.5 922.6 712.5C926.1 709.5 929.6 706.8 933.6 704.0C937.6 701.2 942.8 698.2 946.8 696.0C950.8 693.8 954.1 692.3 957.6 691.0C961.1 689.7 964.1 688.8 967.6 688.0C971.1 687.2 974.9 686.7 978.4 686.5C981.9 686.3 985.1 686.6 988.6 687.0C992.1 687.4 996.0 687.8 999.5 689.0C1003.0 690.2 1006.1 692.2 1009.6 694.5C1013.1 696.8 1017.4 699.8 1020.6 703.0C1023.8 706.2 1025.9 710.0 1028.6 714.0C1031.2 718.0 1034.2 722.7 1036.5 727.0C1038.8 731.3 1040.3 735.8 1042.1 740.0C1043.8 744.2 1045.5 748.3 1047.0 752.0C1048.5 755.7 1049.8 758.9 1051.1 762.0C1052.4 765.1 1054.3 769.1 1054.9 770.5C1055.5 769.9 1057.3 768.8 1058.6 767.0C1059.9 765.2 1061.2 762.8 1062.9 759.5C1064.6 756.2 1066.6 751.2 1068.6 747.0C1070.5 742.8 1072.8 738.3 1074.6 734.5C1076.4 730.7 1077.8 727.5 1079.6 724.0C1081.3 720.5 1084.2 715.5 1085.1 713.8" fill="none" stroke="#151515" stroke-width="3.6" stroke-linejoin="round" stroke-linecap="butt"/>
<path d="M84.0 401.7C84.3 400.2 85.2 395.6 86.0 393.0C86.8 390.4 87.6 388.2 88.5 386.0C89.4 383.8 90.6 381.6 91.5 380.0C92.4 378.4 93.2 377.7 94.0 376.5C94.8 375.3 95.6 374.2 96.4 373.0C97.2 371.8 98.0 370.6 98.8 369.5C99.6 368.4 100.1 367.2 101.3 366.5C102.5 365.8 104.4 365.8 106.0 365.5C107.6 365.2 109.3 364.5 110.9 364.5C112.5 364.5 114.1 365.0 115.7 365.3C117.3 365.6 118.9 365.7 120.5 366.2C122.1 366.7 124.0 367.4 125.4 368.2C126.8 369.0 127.9 369.9 129.0 371.0C130.1 372.1 131.1 373.2 132.1 374.5C133.1 375.8 134.0 377.5 135.0 379.0C136.0 380.5 137.0 381.9 137.9 383.6C138.8 385.3 139.6 387.4 140.5 389.0C141.4 390.6 142.8 392.3 143.2 393.0C143.8 391.7 145.6 387.8 147.0 385.0C148.4 382.2 150.0 379.5 151.5 376.3C153.0 373.1 154.3 369.6 156.0 366.0C157.7 362.4 160.5 356.6 161.4 354.7" fill="none" stroke="#1a1aff" stroke-width="2.4" stroke-dasharray="6 4" stroke-linejoin="round" stroke-linecap="butt"/>
<path d="M86.0 400.7C86.3 399.2 87.2 394.6 88.0 392.0C88.8 389.4 89.6 387.2 90.5 385.0C91.4 382.8 92.6 380.6 93.5 379.0C94.4 377.4 95.2 376.7 96.0 375.5C96.8 374.3 97.6 373.2 98.4 372.0C99.2 370.8 100.0 369.6 100.8 368.5C101.6 367.4 102.1 366.2 103.3 365.5C104.5 364.8 106.4 364.8 108.0 364.5C109.6 364.2 111.3 363.5 112.9 363.5C114.5 363.5 116.1 364.0 117.7 364.3C119.3 364.6 120.9 364.7 122.5 365.2C124.1 365.7 126.0 366.4 127.4 367.2C128.8 368.0 129.9 368.9 131.0 370.0C132.1 371.1 133.1 372.2 134.1 373.5C135.1 374.8 136.0 376.5 137.0 378.0C138.0 379.5 139.0 380.9 139.9 382.6C140.8 384.3 141.6 386.4 142.5 388.0C143.4 389.6 144.8 391.3 145.2 392.0C145.8 390.7 147.6 386.8 149.0 384.0C150.4 381.2 152.0 378.5 153.5 375.3C155.0 372.1 156.3 368.6 158.0 365.0C159.7 361.4 162.5 355.6 163.4 353.7" fill="none" stroke="#1a1aff" stroke-width="2.4" stroke-dasharray="6 4" stroke-linejoin="round" stroke-linecap="butt"/>
<path d="M477.8 401.7C478.0 400.8 478.6 397.9 479.0 396.0C479.4 394.1 480.0 392.2 480.5 390.5C481.0 388.8 481.2 387.8 482.0 386.0C482.8 384.2 484.0 381.8 485.0 380.0C486.0 378.2 486.9 376.8 487.9 375.0C488.9 373.2 490.0 370.8 491.0 369.0C492.0 367.2 493.0 365.6 494.0 364.0C495.0 362.4 496.0 360.8 497.0 359.5C498.0 358.2 498.8 357.2 499.8 356.0C500.8 354.8 501.8 353.6 503.0 352.5C504.2 351.4 505.7 350.4 507.0 349.5C508.3 348.6 509.4 348.7 511.0 347.0C512.6 345.3 513.9 341.4 516.6 339.5C519.3 337.6 523.4 336.4 527.0 335.5C530.6 334.6 534.9 334.2 538.2 334.0C541.5 333.8 544.2 333.6 547.0 334.0C549.8 334.4 552.3 335.2 554.8 336.5C557.3 337.8 559.8 339.6 562.0 341.5C564.2 343.4 566.1 345.8 568.1 348.1C570.1 350.4 572.1 353.0 574.0 355.5C575.9 358.0 578.0 360.0 579.7 363.1C581.5 366.2 582.8 369.9 584.5 374.0C586.2 378.1 588.8 385.7 589.7 388.0C590.6 385.8 593.3 379.1 595.0 375.0C596.7 370.9 598.3 367.0 600.0 363.1C601.7 359.2 603.4 355.4 605.0 351.5C606.6 347.6 609.1 341.8 609.9 339.8" fill="none" stroke="#1a1aff" stroke-width="2.4" stroke-dasharray="6 4" stroke-linejoin="round" stroke-linecap="butt"/>
<path d="M870.1 402.2C870.3 400.8 870.7 396.6 871.5 393.5C872.3 390.4 873.5 386.5 874.8 383.5C876.1 380.5 877.8 377.9 879.5 375.5C881.2 373.1 883.0 370.8 885.0 369.0C887.0 367.2 889.1 365.9 891.4 364.5C893.6 363.1 895.7 361.8 898.5 360.5C901.3 359.2 905.6 357.8 908.1 357.0C910.6 356.2 911.6 356.1 913.5 356.0C915.4 355.9 917.5 355.8 919.7 356.3C921.9 356.8 924.3 357.5 926.5 359.0C928.7 360.5 931.2 363.1 933.0 365.2C934.8 367.3 936.1 369.0 937.5 371.5C938.9 374.0 940.2 377.7 941.3 380.2C942.4 382.7 943.2 384.6 944.0 386.5C944.8 388.4 945.9 390.9 946.3 391.8C946.7 391.2 947.7 389.4 948.5 388.0C949.3 386.6 950.4 384.8 951.3 383.5C952.2 382.2 953.2 381.1 954.0 380.0C954.8 378.9 955.9 377.4 956.3 376.9" fill="none" stroke="#1a1aff" stroke-width="2.4" stroke-dasharray="6 4" stroke-linejoin="round" stroke-linecap="butt"/>
<path d="M84.0 795.0C84.2 793.8 84.6 790.5 85.0 788.0C85.4 785.5 86.0 782.5 86.5 780.0C87.0 777.5 87.2 775.3 87.9 773.0C88.7 770.7 89.8 768.0 91.0 766.0C92.2 764.0 93.3 762.6 95.0 761.0C96.7 759.4 98.6 758.1 101.1 756.5C103.6 754.9 106.9 753.0 110.0 751.5C113.1 750.0 116.3 749.0 119.6 747.5C122.9 746.0 126.9 744.1 130.0 742.5C133.1 740.9 135.3 739.8 138.0 738.0C140.7 736.2 143.7 733.8 146.0 732.0C148.3 730.2 149.8 727.5 152.0 727.5C154.2 727.5 156.2 731.0 159.2 732.3C162.2 733.5 166.5 733.9 170.0 735.0C173.5 736.1 177.6 737.0 180.3 739.0C183.0 741.0 184.2 743.5 186.0 747.0C187.8 750.5 189.6 754.8 190.8 760.0C192.1 765.2 193.1 775.3 193.5 778.4C194.6 776.3 197.8 770.0 200.0 766.0C202.2 762.0 204.6 758.8 206.6 754.7C208.6 750.6 211.0 743.7 211.9 741.5" fill="none" stroke="#1a1aff" stroke-width="2.4" stroke-dasharray="6 4" stroke-linejoin="round" stroke-linecap="butt"/>
<path d="M84.0 795.0C84.2 793.8 84.6 790.5 85.0 788.0C85.4 785.5 86.0 782.5 86.5 780.0C87.0 777.5 87.2 775.3 87.9 773.0C88.7 770.7 89.8 768.0 91.0 766.0C92.2 764.0 93.3 762.6 95.0 761.0C96.7 759.4 98.6 758.1 101.1 756.5C103.6 754.9 106.9 753.0 110.0 751.5C113.1 750.0 116.3 749.0 119.6 747.5C122.9 746.0 126.9 744.1 130.0 742.5C133.1 740.9 135.3 739.8 138.0 738.0C140.7 736.2 143.7 733.8 146.0 732.0C148.3 730.2 149.8 727.8 152.0 727.5C154.2 727.2 156.2 729.2 159.2 730.0C162.2 730.8 166.5 731.0 170.0 732.0C173.5 733.0 177.3 733.8 180.3 736.0C183.3 738.2 185.7 741.0 188.0 745.0C190.3 749.0 192.2 754.8 194.0 760.0C195.8 765.2 198.2 773.3 199.0 776.0C200.0 774.0 203.2 767.8 205.0 764.0C206.8 760.2 208.5 756.7 210.0 753.0C211.5 749.3 213.3 743.8 214.0 742.0" fill="none" stroke="#1a1aff" stroke-width="2.4" stroke-dasharray="6 4" stroke-linejoin="round" stroke-linecap="butt"/>
<path d="M477.8 795.0C478.0 793.7 478.5 789.7 479.0 787.0C479.5 784.3 480.2 781.8 481.0 779.0C481.8 776.2 482.5 772.8 483.5 770.0C484.5 767.2 485.6 764.8 487.2 762.0C488.8 759.2 490.8 755.4 493.0 753.0C495.2 750.6 497.6 749.2 500.4 747.5C503.2 745.8 507.1 744.1 510.0 742.5C512.9 740.9 515.2 739.5 518.0 738.0C520.8 736.5 523.1 735.7 526.8 733.6C530.5 731.5 534.5 728.3 540.0 725.5C545.5 722.7 554.3 719.2 560.0 717.0C565.7 714.8 570.3 713.2 574.3 712.5C578.3 711.8 580.6 712.0 584.0 713.0C587.4 714.0 591.9 717.0 594.4 718.7C596.9 720.4 597.5 721.5 599.0 723.0C600.5 724.5 602.3 726.0 603.6 727.8C604.9 729.6 605.9 731.9 607.0 734.0C608.1 736.1 609.4 738.5 610.5 740.5C611.6 742.5 612.5 744.1 613.5 746.0C614.5 747.9 615.4 749.9 616.2 751.9C617.0 753.9 617.7 755.9 618.5 758.0C619.3 760.1 620.2 762.3 620.8 764.5C621.4 766.7 621.5 769.1 621.9 771.4C622.3 773.6 622.8 776.9 623.0 778.0C623.8 776.2 626.2 771.0 628.0 767.0C629.8 763.0 631.5 758.7 634.0 754.0C636.5 749.3 641.4 741.4 642.9 738.9" fill="none" stroke="#1a1aff" stroke-width="2.4" stroke-dasharray="6 4" stroke-linejoin="round" stroke-linecap="butt"/>
<path d="M477.8 795.0C478.0 793.7 478.5 789.7 479.0 787.0C479.5 784.3 480.2 781.8 481.0 779.0C481.8 776.2 482.5 772.8 483.5 770.0C484.5 767.2 485.6 764.8 487.2 762.0C488.8 759.2 490.8 755.4 493.0 753.0C495.2 750.6 497.6 749.2 500.4 747.5C503.2 745.8 507.1 744.1 510.0 742.5C512.9 740.9 515.2 739.5 518.0 738.0C520.8 736.5 523.1 735.7 526.8 733.6C530.5 731.5 534.5 727.9 540.0 725.5C545.5 723.1 554.2 721.1 560.0 719.5C565.8 717.9 570.3 716.6 575.0 716.0C579.7 715.4 584.2 715.8 588.0 716.0C591.8 716.2 595.0 716.8 598.0 717.5C601.0 718.2 603.9 718.8 605.9 720.0C607.9 721.2 608.7 722.8 610.0 724.5C611.3 726.2 612.7 728.3 613.9 730.1C615.1 731.9 616.0 733.8 617.0 735.5C618.0 737.2 618.7 738.8 619.6 740.5C620.5 742.2 621.6 744.1 622.5 746.0C623.4 747.9 624.2 749.7 625.0 752.0C625.8 754.3 626.8 757.3 627.5 760.0C628.2 762.7 628.9 765.5 629.5 768.0C630.1 770.5 630.8 773.8 631.0 775.0C631.8 773.3 634.2 768.8 636.0 765.0C637.8 761.2 640.0 756.0 642.0 752.0C644.0 748.0 647.0 742.8 648.0 741.0" fill="none" stroke="#1a1aff" stroke-width="2.4" stroke-dasharray="6 4" stroke-linejoin="round" stroke-linecap="butt"/>
<path d="M871.6 795.0C871.8 793.7 872.4 789.8 873.0 787.0C873.6 784.2 874.2 781.0 875.0 778.0C875.8 775.0 877.0 771.7 878.0 769.0C879.0 766.3 879.7 764.2 881.2 762.0C882.7 759.8 884.8 757.7 887.0 756.0C889.2 754.3 891.4 753.2 894.4 752.0C897.4 750.8 900.6 750.2 905.0 748.5C909.4 746.8 916.3 744.1 920.8 742.0C925.3 739.9 928.5 738.2 932.0 736.0C935.5 733.8 939.4 730.5 941.9 728.5C944.4 726.5 945.3 725.5 947.0 724.0C948.7 722.5 949.1 720.6 952.0 719.7C954.9 718.8 960.1 718.3 964.1 718.5C968.1 718.7 972.1 719.3 976.1 720.9C980.1 722.5 984.9 725.3 988.1 728.1C991.3 730.9 993.2 734.2 995.4 737.8C997.6 741.4 999.8 745.8 1001.4 749.8C1003.0 753.8 1004.0 758.6 1005.0 761.8C1006.0 765.0 1006.9 767.1 1007.4 769.1C1007.9 771.1 1007.2 773.0 1008.0 774.0C1008.8 775.0 1011.5 774.8 1012.2 775.0" fill="none" stroke="#1a1aff" stroke-width="2.4" stroke-dasharray="6 4" stroke-linejoin="round" stroke-linecap="butt"/>
<path d="M871.6 795.0C871.8 793.7 872.4 789.8 873.0 787.0C873.6 784.2 874.2 781.0 875.0 778.0C875.8 775.0 877.0 771.7 878.0 769.0C879.0 766.3 879.7 764.2 881.2 762.0C882.7 759.8 884.8 757.7 887.0 756.0C889.2 754.3 891.4 753.2 894.4 752.0C897.4 750.8 900.6 750.2 905.0 748.5C909.4 746.8 916.3 744.1 920.8 742.0C925.3 739.9 928.5 738.2 932.0 736.0C935.5 733.8 939.2 729.8 941.9 728.5C944.6 727.2 946.1 727.6 948.4 728.1C950.7 728.6 953.0 731.8 955.6 731.8C958.2 731.8 961.7 728.5 964.1 728.1C966.5 727.7 968.1 727.7 970.1 729.3C972.1 730.9 973.5 735.2 976.1 737.8C978.7 740.4 983.1 742.6 985.7 745.0C988.3 747.4 990.2 749.8 991.8 752.2C993.4 754.6 994.4 756.6 995.4 759.4C996.4 762.2 997.2 766.7 997.8 769.1C998.4 771.5 998.8 773.2 999.0 774.0" fill="none" stroke="#1a1aff" stroke-width="2.4" stroke-dasharray="6 4" stroke-linejoin="round" stroke-linecap="butt"/>
<path d="M84.0 401.7C84.3 400.2 85.2 395.6 86.0 393.0C86.8 390.4 87.6 388.2 88.5 386.0C89.4 383.8 90.6 381.6 91.5 380.0C92.4 378.4 93.2 377.7 94.0 376.5C94.8 375.3 95.6 374.2 96.4 373.0C97.2 371.8 98.0 370.6 98.8 369.5C99.6 368.4 100.1 367.4 101.3 366.5C102.5 365.6 104.4 364.7 106.0 364.0C107.6 363.3 109.3 362.8 110.9 362.4C112.5 361.9 114.1 361.5 115.7 361.3C117.3 361.1 118.9 361.1 120.5 361.0C122.1 360.9 123.8 360.9 125.4 361.0C127.0 361.1 128.8 361.1 130.2 361.4C131.6 361.7 132.7 362.2 134.0 363.0C135.3 363.8 136.5 364.2 137.9 366.2C139.3 368.2 141.1 372.2 142.5 375.0C143.9 377.8 145.3 380.8 146.5 383.0C147.7 385.2 148.7 386.6 149.5 388.0C150.3 389.4 151.2 390.8 151.5 391.3C152.2 390.1 154.1 386.5 155.5 384.0C156.9 381.5 158.3 378.9 159.8 376.3C161.3 373.7 162.9 371.1 164.5 368.5C166.1 365.9 167.8 363.6 169.5 361.0C171.2 358.4 173.8 354.4 174.7 353.1" fill="none" stroke="#1a1aff" stroke-width="2.2" stroke-linejoin="round" stroke-linecap="butt"/>
<path d="M84.8 403.2C85.1 401.8 86.0 397.1 86.8 394.5C87.5 391.9 88.4 389.7 89.3 387.5C90.2 385.3 91.4 383.1 92.3 381.5C93.2 379.9 94.0 379.2 94.8 378.0C95.6 376.8 96.4 375.7 97.2 374.5C98.0 373.3 98.8 372.1 99.6 371.0C100.4 369.9 100.9 368.9 102.1 368.0C103.3 367.1 105.2 366.2 106.8 365.5C108.4 364.8 110.1 364.3 111.7 363.9C113.3 363.4 114.9 363.0 116.5 362.8C118.1 362.6 119.7 362.6 121.3 362.5C122.9 362.4 124.6 362.4 126.2 362.5C127.8 362.6 129.6 362.6 131.0 362.9C132.4 363.2 133.5 363.7 134.8 364.5C136.1 365.3 137.3 365.7 138.7 367.7C140.1 369.7 141.9 373.7 143.3 376.5C144.7 379.3 146.1 382.3 147.3 384.5C148.5 386.7 149.5 388.1 150.3 389.5C151.1 390.9 152.0 392.2 152.3 392.8C153.0 391.6 154.9 388.0 156.3 385.5C157.7 383.0 159.1 380.4 160.6 377.8C162.1 375.2 163.7 372.6 165.3 370.0C166.9 367.4 168.6 365.1 170.3 362.5C172.0 359.9 174.6 355.9 175.5 354.6" fill="none" stroke="#1a1aff" stroke-width="2.2" stroke-linejoin="round" stroke-linecap="butt"/>
<path d="M154.7 391.3C155.4 390.1 157.3 386.5 158.7 384.0C160.1 381.5 161.5 378.9 163.0 376.3C164.5 373.7 166.1 371.1 167.7 368.5C169.3 365.9 171.0 363.6 172.7 361.0C174.4 358.4 177.0 354.4 177.9 353.1" fill="none" stroke="#1a1aff" stroke-width="2.2" stroke-linejoin="round" stroke-linecap="butt"/>
<path d="M84.0 401.7C84.3 400.2 85.2 395.6 86.0 393.0C86.8 390.4 87.6 388.2 88.5 386.0C89.4 383.8 90.6 381.6 91.5 380.0C92.4 378.4 93.2 377.7 94.0 376.5C94.8 375.3 95.6 374.2 96.4 373.0C97.2 371.8 98.0 370.6 98.8 369.5C99.6 368.4 100.1 367.4 101.3 366.5C102.5 365.6 104.4 364.6 106.0 364.0C107.6 363.4 109.5 363.1 111.2 362.8C112.9 362.5 114.5 362.2 116.2 362.1C117.9 362.0 119.5 362.2 121.2 362.2C123.0 362.3 124.7 362.5 126.4 362.7C128.1 362.9 129.9 363.0 131.4 363.5C133.0 364.0 134.2 364.6 135.5 365.5C136.8 366.4 138.0 366.7 139.4 368.7C140.8 370.7 142.6 374.7 144.0 377.5C145.4 380.3 146.8 383.3 148.0 385.5C149.2 387.7 150.2 389.1 151.0 390.5C151.8 391.9 152.7 393.2 153.0 393.8" fill="none" stroke="#1a1aff" stroke-width="2.2" stroke-linejoin="round" stroke-linecap="butt"/>
<path d="M477.8 401.7C478.0 400.8 478.6 397.9 479.0 396.0C479.4 394.1 480.0 392.2 480.5 390.5C481.0 388.8 481.2 387.8 482.0 386.0C482.8 384.2 484.0 381.8 485.0 380.0C486.0 378.2 486.9 376.8 487.9 375.0C488.9 373.2 490.0 370.8 491.0 369.0C492.0 367.2 493.0 365.6 494.0 364.0C495.0 362.4 496.0 360.8 497.0 359.5C498.0 358.2 498.8 357.2 499.8 356.0C500.8 354.8 501.8 353.6 503.0 352.5C504.2 351.4 505.7 350.4 507.0 349.5C508.3 348.6 509.4 347.9 511.0 347.0C512.6 346.1 514.8 344.9 516.5 344.1C518.2 343.3 519.4 342.8 521.0 342.3C522.6 341.8 524.3 341.4 526.1 341.0C527.9 340.6 530.0 340.4 532.0 340.2C534.0 340.0 536.2 339.6 538.2 339.8C540.2 340.0 542.1 340.7 544.0 341.5C545.9 342.3 547.9 343.5 549.8 344.8C551.7 346.1 553.6 347.6 555.5 349.5C557.4 351.4 559.6 353.9 561.4 356.4C563.2 358.9 564.8 361.7 566.5 364.5C568.2 367.3 570.0 370.2 571.4 373.0C572.8 375.8 573.9 379.0 575.0 381.5C576.1 384.0 577.6 386.9 578.1 388.0C578.6 387.6 579.9 386.9 581.0 385.5C582.1 384.1 583.2 382.9 584.7 379.7C586.2 376.5 588.1 370.8 590.0 366.4C591.9 361.9 594.1 357.1 596.0 353.0C597.9 348.9 600.7 343.4 601.6 341.5" fill="none" stroke="#1a1aff" stroke-width="2.2" stroke-linejoin="round" stroke-linecap="butt"/>
<path d="M478.8 403.0C479.0 402.1 479.6 399.2 480.0 397.3C480.4 395.4 481.0 393.5 481.5 391.8C482.0 390.1 482.2 389.1 483.0 387.3C483.8 385.6 485.0 383.1 486.0 381.3C487.0 379.5 487.9 378.1 488.9 376.3C489.9 374.5 491.0 372.1 492.0 370.3C493.0 368.5 494.0 366.9 495.0 365.3C496.0 363.7 497.0 362.1 498.0 360.8C499.0 359.5 499.8 358.5 500.8 357.3C501.8 356.1 502.8 354.9 504.0 353.8C505.2 352.7 506.7 351.7 508.0 350.8C509.3 349.9 510.4 349.2 512.0 348.3C513.6 347.4 515.8 346.2 517.5 345.4C519.2 344.6 520.4 344.1 522.0 343.6C523.6 343.1 525.3 342.7 527.1 342.3C528.9 341.9 531.0 341.7 533.0 341.5C535.0 341.3 537.2 340.9 539.2 341.1C541.2 341.3 543.1 342.0 545.0 342.8C546.9 343.6 548.9 344.8 550.8 346.1C552.7 347.4 554.6 348.9 556.5 350.8C558.4 352.7 560.6 355.2 562.4 357.7C564.2 360.2 565.8 363.0 567.5 365.8C569.2 368.6 571.0 371.5 572.4 374.3C573.8 377.1 574.9 380.3 576.0 382.8C577.1 385.3 578.6 388.2 579.1 389.3C579.6 388.9 580.9 388.2 582.0 386.8C583.1 385.4 584.2 384.2 585.7 381.0C587.2 377.8 589.1 372.1 591.0 367.7C592.9 363.2 595.1 358.4 597.0 354.3C598.9 350.2 601.7 344.7 602.6 342.8" fill="none" stroke="#1a1aff" stroke-width="2.2" stroke-linejoin="round" stroke-linecap="butt"/>
<path d="M477.8 401.7C478.0 400.8 478.6 397.9 479.0 396.0C479.4 394.1 480.0 392.2 480.5 390.5C481.0 388.8 481.2 387.8 482.0 386.0C482.8 384.2 484.0 381.8 485.0 380.0C486.0 378.2 486.9 376.8 487.9 375.0C488.9 373.2 490.0 370.8 491.0 369.0C492.0 367.2 493.0 365.6 494.0 364.0C495.0 362.4 496.0 360.8 497.0 359.5C498.0 358.2 498.8 357.2 499.8 356.0C500.8 354.8 501.8 353.6 503.0 352.5C504.2 351.4 505.7 350.4 507.0 349.5C508.3 348.6 509.4 347.9 511.0 347.0C512.6 346.1 514.8 344.9 516.5 344.1C518.2 343.3 519.4 342.7 521.0 342.3C522.6 341.9 524.4 341.6 526.4 341.4C528.3 341.2 530.4 341.1 532.5 341.0C534.6 341.0 536.9 340.7 539.0 341.1C541.0 341.4 543.0 342.2 545.0 343.2C547.0 344.1 549.0 345.4 551.0 346.9C553.0 348.4 555.0 350.0 557.0 352.0C559.0 354.0 561.1 356.4 562.9 358.9C564.7 361.4 566.3 364.2 568.0 367.0C569.7 369.8 571.5 372.7 572.9 375.5C574.3 378.3 575.4 381.5 576.5 384.0C577.6 386.5 579.1 389.4 579.6 390.5" fill="none" stroke="#1a1aff" stroke-width="2.2" stroke-linejoin="round" stroke-linecap="butt"/>
<path d="M871.6 401.7C871.8 400.2 872.2 396.1 873.0 393.0C873.8 389.9 875.0 386.0 876.3 383.0C877.6 380.0 879.3 377.4 881.0 375.0C882.7 372.6 884.5 370.3 886.5 368.5C888.5 366.7 890.6 365.4 892.9 364.0C895.1 362.6 897.2 361.2 900.0 360.0C902.8 358.8 907.1 357.2 909.6 356.5C912.1 355.8 913.1 355.6 915.0 355.5C916.9 355.4 919.0 355.3 921.2 355.8C923.4 356.3 925.8 357.0 928.0 358.5C930.2 360.0 932.7 362.6 934.5 364.7C936.3 366.8 937.6 368.5 939.0 371.0C940.4 373.5 941.7 377.2 942.8 379.7C943.9 382.2 944.7 384.1 945.5 386.0C946.3 387.9 947.4 390.4 947.8 391.3C948.2 390.7 949.2 388.9 950.0 387.5C950.8 386.1 951.9 384.3 952.8 383.0C953.7 381.7 954.7 380.6 955.5 379.5C956.3 378.4 957.4 376.9 957.8 376.4" fill="none" stroke="#1a1aff" stroke-width="2.2" stroke-linejoin="round" stroke-linecap="butt"/>
<path d="M872.1 403.2C872.3 401.8 872.7 397.6 873.5 394.5C874.3 391.4 875.5 387.5 876.8 384.5C878.1 381.5 879.8 378.9 881.5 376.5C883.2 374.1 885.0 371.8 887.0 370.0C889.0 368.2 891.1 366.9 893.4 365.5C895.6 364.1 897.7 362.8 900.5 361.5C903.3 360.2 907.6 358.8 910.1 358.0C912.6 357.2 913.6 357.1 915.5 357.0C917.4 356.9 919.5 356.8 921.7 357.3C923.9 357.8 926.3 358.5 928.5 360.0C930.7 361.5 933.2 364.1 935.0 366.2C936.8 368.3 938.1 370.0 939.5 372.5C940.9 375.0 942.2 378.7 943.3 381.2C944.4 383.7 945.2 385.6 946.0 387.5C946.8 389.4 947.9 391.9 948.3 392.8C948.7 392.2 949.7 390.4 950.5 389.0C951.3 387.6 952.4 385.8 953.3 384.5C954.2 383.2 955.2 382.1 956.0 381.0C956.8 379.9 957.9 378.4 958.3 377.9" fill="none" stroke="#1a1aff" stroke-width="2.2" stroke-linejoin="round" stroke-linecap="butt"/>
<path d="M84.0 795.0C84.2 793.8 84.6 790.5 85.0 788.0C85.4 785.5 86.0 782.5 86.5 780.0C87.0 777.5 87.2 775.3 87.9 773.0C88.7 770.7 89.8 768.0 91.0 766.0C92.2 764.0 93.3 762.6 95.0 761.0C96.7 759.4 98.6 758.1 101.1 756.5C103.6 754.9 106.9 753.0 110.0 751.5C113.1 750.0 116.3 749.0 119.6 747.5C122.9 746.0 126.9 744.1 130.0 742.5C133.1 740.9 135.3 739.8 138.0 738.0C140.7 736.2 143.7 733.8 146.0 732.0C148.3 730.2 149.8 728.9 152.0 727.5C154.2 726.1 156.9 724.5 159.2 723.5C161.5 722.5 163.8 722.0 166.0 721.7C168.2 721.4 170.1 720.8 172.3 721.5C174.5 722.2 176.8 724.0 179.0 726.0C181.2 728.0 183.5 730.9 185.5 733.6C187.5 736.3 189.2 738.9 191.0 742.0C192.8 745.1 194.5 748.8 196.1 752.1C197.7 755.4 199.2 758.9 200.5 762.0C201.8 765.1 203.0 768.4 204.0 770.5C205.0 772.6 206.2 773.8 206.6 774.5C207.3 773.0 209.2 768.8 211.0 765.5C212.8 762.2 215.4 758.1 217.2 754.7C219.0 751.3 220.5 748.1 222.0 745.0C223.5 741.9 225.7 737.7 226.4 736.2" fill="none" stroke="#1a1aff" stroke-width="1.8" stroke-linejoin="round" stroke-linecap="butt"/>
<path d="M84.0 795.0C84.2 793.8 84.6 790.5 85.0 788.0C85.4 785.5 86.0 782.5 86.5 780.0C87.0 777.5 87.2 775.3 87.9 773.0C88.7 770.7 89.8 768.0 91.0 766.0C92.2 764.0 93.3 762.6 95.0 761.0C96.7 759.4 98.6 758.1 101.1 756.5C103.6 754.9 106.9 753.0 110.0 751.5C113.1 750.0 116.3 749.0 119.6 747.5C122.9 746.0 126.9 744.1 130.0 742.5C133.1 740.9 135.3 739.8 138.0 738.0C140.7 736.2 143.7 733.2 146.0 732.0C148.3 730.8 149.8 731.6 152.0 731.0C154.2 730.4 156.9 729.0 159.2 728.5C161.5 728.0 163.7 727.8 166.0 728.0C168.3 728.2 170.7 728.7 173.0 730.0C175.3 731.3 177.8 733.7 180.0 736.0C182.2 738.3 184.2 740.7 186.0 744.0C187.8 747.3 189.7 752.3 191.0 756.0C192.3 759.7 193.2 762.5 194.0 766.0C194.8 769.5 195.8 775.2 196.1 777.1C197.2 774.8 200.7 767.7 203.0 763.0C205.3 758.3 207.4 753.7 210.0 749.0C212.6 744.3 217.1 737.2 218.5 734.9" fill="none" stroke="#1a1aff" stroke-width="1.8" stroke-linejoin="round" stroke-linecap="butt"/>
<path d="M477.8 795.0C478.0 793.7 478.5 789.7 479.0 787.0C479.5 784.3 480.2 781.8 481.0 779.0C481.8 776.2 482.5 772.8 483.5 770.0C484.5 767.2 485.6 764.8 487.2 762.0C488.8 759.2 490.8 755.4 493.0 753.0C495.2 750.6 497.6 749.2 500.4 747.5C503.2 745.8 507.1 744.1 510.0 742.5C512.9 740.9 515.2 739.5 518.0 738.0C520.8 736.5 523.1 735.7 526.8 733.6C530.5 731.5 535.6 728.1 540.0 725.5C544.4 722.9 548.9 720.7 553.2 717.8C557.5 714.9 562.4 710.4 566.0 708.0C569.6 705.6 572.2 704.6 575.0 703.5C577.8 702.4 580.4 701.8 582.9 701.5C585.4 701.2 587.5 701.6 590.0 702.0C592.5 702.4 595.3 702.8 597.8 703.8C600.3 704.8 602.7 706.5 605.0 708.0C607.3 709.5 609.6 711.1 611.6 712.9C613.6 714.7 615.3 716.9 617.0 719.0C618.7 721.1 620.5 723.4 621.9 725.6C623.3 727.8 624.4 729.9 625.5 732.0C626.6 734.1 627.8 736.2 628.8 738.2C629.8 740.2 630.5 742.1 631.3 744.0C632.1 745.9 632.5 747.1 633.4 749.6C634.3 752.1 635.9 756.1 636.8 758.8C637.6 761.5 638.1 763.5 638.5 766.0C638.9 768.5 638.9 772.7 639.0 774.0C639.7 772.0 641.7 766.0 643.0 762.0C644.3 758.0 645.3 753.8 647.0 750.0C648.7 746.2 650.6 742.6 653.0 739.0C655.4 735.4 659.9 730.1 661.3 728.3" fill="none" stroke="#1a1aff" stroke-width="1.8" stroke-linejoin="round" stroke-linecap="butt"/>
<path d="M477.8 795.0C478.0 793.7 478.5 789.7 479.0 787.0C479.5 784.3 480.2 781.8 481.0 779.0C481.8 776.2 482.5 772.8 483.5 770.0C484.5 767.2 485.6 764.8 487.2 762.0C488.8 759.2 490.8 755.4 493.0 753.0C495.2 750.6 497.6 749.2 500.4 747.5C503.2 745.8 507.1 744.1 510.0 742.5C512.9 740.9 515.2 739.5 518.0 738.0C520.8 736.5 523.1 735.7 526.8 733.6C530.5 731.5 534.5 728.8 540.0 725.5C545.5 722.2 554.8 716.6 560.0 714.1C565.2 711.6 567.7 711.4 571.5 710.6C575.3 709.8 579.1 708.9 582.9 709.5C586.7 710.1 591.5 712.7 594.4 714.1C597.2 715.5 598.1 716.5 600.0 718.0C601.9 719.5 604.1 721.5 605.9 723.3C607.7 725.1 609.5 727.1 611.0 729.0C612.5 730.9 613.8 732.7 615.0 734.7C616.2 736.7 617.4 738.9 618.5 741.0C619.6 743.1 620.9 745.3 621.9 747.3C622.9 749.3 623.7 751.1 624.5 753.0C625.3 754.9 625.9 756.8 626.5 758.8C627.1 760.8 627.6 763.1 628.0 765.0C628.4 766.9 628.9 768.5 628.8 770.3C628.7 772.1 627.7 775.0 627.5 776.0C628.4 774.2 631.2 769.0 633.0 765.0C634.8 761.0 636.3 756.2 638.0 752.0C639.7 747.8 641.3 744.0 643.0 740.0C644.7 736.0 647.2 730.2 648.1 728.3" fill="none" stroke="#1a1aff" stroke-width="1.8" stroke-linejoin="round" stroke-linecap="butt"/>
<path d="M871.6 795.0C871.8 793.7 872.4 789.8 873.0 787.0C873.6 784.2 874.2 781.0 875.0 778.0C875.8 775.0 877.0 771.7 878.0 769.0C879.0 766.3 879.7 764.2 881.2 762.0C882.7 759.8 884.8 757.7 887.0 756.0C889.2 754.3 891.4 753.2 894.4 752.0C897.4 750.8 900.6 750.2 905.0 748.5C909.4 746.8 916.3 744.1 920.8 742.0C925.3 739.9 928.5 738.2 932.0 736.0C935.5 733.8 939.6 730.7 941.9 728.5C944.2 726.3 944.3 725.3 946.0 723.0C947.7 720.7 949.4 717.6 952.0 714.9C954.6 712.1 958.5 709.3 961.7 706.5C964.9 703.7 968.3 699.0 971.3 698.1C974.3 697.2 976.9 701.6 979.7 701.1C982.5 700.6 985.1 694.7 988.1 695.0C991.1 695.3 994.8 701.0 997.8 702.9C1000.8 704.8 1003.4 704.3 1006.2 706.5C1009.0 708.7 1011.8 712.9 1014.6 716.1C1017.4 719.3 1020.7 722.1 1023.1 725.7C1025.5 729.3 1027.1 733.8 1029.1 737.8C1031.1 741.8 1033.3 745.8 1035.1 749.8C1036.9 753.8 1038.5 758.6 1039.9 761.8C1041.3 765.0 1042.9 767.9 1043.5 769.1C1044.3 768.7 1046.5 768.9 1048.3 766.7C1050.1 764.5 1052.3 760.2 1054.3 755.8C1056.3 751.4 1058.8 744.4 1060.4 740.2C1062.0 736.0 1063.4 732.2 1064.0 730.6" fill="none" stroke="#1a1aff" stroke-width="1.8" stroke-linejoin="round" stroke-linecap="butt"/>
<path d="M871.6 795.0C871.8 793.7 872.4 789.8 873.0 787.0C873.6 784.2 874.2 781.0 875.0 778.0C875.8 775.0 877.0 771.7 878.0 769.0C879.0 766.3 879.7 764.2 881.2 762.0C882.7 759.8 884.8 757.7 887.0 756.0C889.2 754.3 891.4 753.2 894.4 752.0C897.4 750.8 900.6 750.2 905.0 748.5C909.4 746.8 916.3 744.1 920.8 742.0C925.3 739.9 928.5 738.2 932.0 736.0C935.5 733.8 939.2 731.5 941.9 728.5C944.6 725.5 945.3 720.9 948.0 718.0C950.7 715.1 954.4 712.9 958.1 711.3C961.8 709.7 965.5 708.2 970.1 708.3C974.7 708.4 981.5 710.0 985.7 711.9C989.9 713.8 992.4 716.8 995.4 719.7C998.4 722.6 1001.4 725.9 1003.8 729.3C1006.2 732.7 1008.0 736.6 1009.8 740.2C1011.6 743.8 1013.2 747.8 1014.6 751.0C1016.0 754.2 1017.0 756.4 1018.2 759.4C1019.4 762.4 1021.2 767.5 1021.8 769.1C1022.6 769.1 1025.1 770.7 1026.7 769.1C1028.3 767.5 1029.9 762.6 1031.5 759.4C1033.1 756.2 1034.5 754.4 1036.3 749.8C1038.1 745.2 1041.3 734.8 1042.3 731.8" fill="none" stroke="#1a1aff" stroke-width="1.8" stroke-linejoin="round" stroke-linecap="butt"/>
<path d="M1006.0 774.5C1007.0 774.6 1010.7 775.8 1012.2 775.0C1013.7 774.2 1014.0 771.8 1015.0 770.0C1016.0 768.2 1016.5 766.5 1018.0 764.0C1019.5 761.5 1022.4 758.5 1024.3 754.7C1026.1 750.9 1028.0 744.5 1029.1 741.2C1030.2 737.9 1030.7 736.0 1031.0 735.0" fill="none" stroke="#1a1aff" stroke-width="1.8" stroke-linejoin="round" stroke-linecap="butt"/>
<path d="M84.0 401.7C84.3 400.4 85.2 396.4 85.8 394.0C86.4 391.6 87.1 389.5 87.8 387.4C88.5 385.3 89.1 383.4 89.7 381.5C90.3 379.6 90.9 377.7 91.6 375.9C92.3 374.1 93.2 372.3 94.0 370.5C94.8 368.7 95.6 366.9 96.4 365.3C97.2 363.7 98.0 362.2 98.8 360.8C99.6 359.4 100.4 358.1 101.3 356.6C102.2 355.1 103.0 353.4 104.0 352.0C105.0 350.6 105.9 349.3 107.0 347.9C108.1 346.5 109.4 344.5 110.5 343.4C111.6 342.2 112.0 342.1 113.8 341.0C115.6 339.9 118.8 338.2 121.5 337.0C124.2 335.8 127.2 334.8 130.0 334.0C132.8 333.2 135.9 332.8 138.2 332.5C140.5 332.2 142.1 332.2 144.0 332.3C145.9 332.4 147.8 332.6 149.8 333.0C151.8 333.4 153.8 334.1 156.0 335.0C158.2 335.9 160.8 337.0 163.1 338.5C165.4 340.0 167.8 341.9 170.0 344.0C172.2 346.1 174.5 349.0 176.4 351.4C178.3 353.8 179.8 356.0 181.5 358.5C183.2 361.0 184.9 363.6 186.4 366.4C187.9 369.1 189.2 372.2 190.5 375.0C191.8 377.8 193.1 380.7 194.0 383.0C194.9 385.3 195.5 387.9 195.8 388.9C196.5 387.2 198.5 382.5 200.0 379.0C201.5 375.5 203.4 371.2 204.9 368.1C206.4 365.0 207.6 363.0 209.0 360.5C210.4 358.0 211.5 356.3 213.3 353.1C215.1 349.9 218.8 343.4 219.9 341.5" fill="none" stroke="#f22a2a" stroke-width="2.6" stroke-dasharray="7.5 6" stroke-linejoin="round" stroke-linecap="butt"/>
<path d="M477.8 401.7C477.9 401.1 478.1 399.4 478.4 397.8C478.7 396.2 479.1 394.0 479.5 392.0C479.9 390.0 480.2 387.9 480.8 385.9C481.4 383.9 482.2 382.0 483.0 380.0C483.8 378.0 484.6 376.1 485.5 373.9C486.4 371.6 487.5 368.9 488.5 366.5C489.5 364.1 490.4 361.7 491.5 359.6C492.6 357.5 493.8 355.8 495.0 354.0C496.2 352.2 497.4 350.6 498.7 348.9C500.0 347.2 501.6 345.6 503.0 344.0C504.4 342.4 505.8 341.1 507.0 339.4C508.2 337.6 509.3 335.5 510.5 333.5C511.7 331.5 512.8 329.2 514.2 327.4C515.6 325.6 517.4 324.1 519.0 322.5C520.6 320.9 522.2 319.4 523.7 317.9C525.2 316.4 526.6 314.9 528.0 313.5C529.4 312.1 530.5 310.8 532.0 309.5C533.5 308.2 535.2 306.7 537.0 305.5C538.8 304.3 540.1 305.0 542.8 302.4C545.5 299.8 549.5 292.8 553.0 290.0C556.5 287.2 560.4 286.6 564.0 285.5C567.6 284.4 571.2 283.7 574.7 283.5C578.2 283.3 581.4 283.6 585.0 284.5C588.6 285.4 593.3 287.2 596.6 289.0C599.9 290.8 602.2 292.6 605.0 295.0C607.8 297.4 610.5 300.4 613.3 303.2C616.1 306.0 619.2 308.9 622.0 312.0C624.8 315.1 627.4 318.3 629.9 321.5C632.4 324.7 634.8 327.9 637.0 331.0C639.2 334.1 641.3 336.6 643.2 339.8C645.1 343.0 646.8 346.7 648.5 350.0C650.2 353.3 651.6 356.8 653.2 359.8C654.8 362.8 656.4 365.5 658.0 368.0C659.6 370.5 662.2 373.6 663.1 374.7C663.9 372.9 666.3 367.6 668.0 364.0C669.7 360.4 671.4 356.9 673.1 353.1C674.8 349.4 676.3 345.4 678.0 341.5C679.7 337.6 681.4 332.9 683.1 329.8C684.9 326.7 686.6 324.9 688.5 323.0C690.4 321.1 693.7 319.0 694.7 318.2" fill="none" stroke="#f22a2a" stroke-width="2.6" stroke-dasharray="7.5 6" stroke-linejoin="round" stroke-linecap="butt"/>
<path d="M477.8 401.7C477.9 401.1 478.1 399.4 478.4 397.8C478.7 396.2 479.1 394.0 479.5 392.0C479.9 390.0 480.2 387.9 480.8 385.9C481.4 383.9 482.2 382.0 483.0 380.0C483.8 378.0 484.6 376.1 485.5 373.9C486.4 371.6 487.5 368.9 488.5 366.5C489.5 364.1 490.4 361.7 491.5 359.6C492.6 357.5 493.8 355.8 495.0 354.0C496.2 352.2 497.4 350.6 498.7 348.9C500.0 347.2 501.6 345.6 503.0 344.0C504.4 342.4 505.8 341.1 507.0 339.4C508.2 337.6 509.3 335.5 510.5 333.5C511.7 331.5 512.8 329.2 514.2 327.4C515.6 325.6 517.4 324.1 519.0 322.5C520.6 320.9 522.2 319.4 523.7 317.9C525.2 316.4 526.6 314.9 528.0 313.5C529.4 312.1 530.5 310.8 532.0 309.5C533.5 308.2 535.2 306.7 537.0 305.5C538.8 304.3 540.6 304.3 542.8 302.4C545.0 300.5 547.0 296.1 550.0 294.0C553.0 291.9 557.4 290.6 561.0 289.5C564.6 288.4 568.2 287.7 571.7 287.5C575.2 287.3 578.4 287.6 582.0 288.5C585.6 289.4 590.3 291.2 593.6 293.0C596.9 294.8 599.2 296.6 602.0 299.0C604.8 301.4 607.5 304.4 610.3 307.2C613.1 310.0 616.2 312.9 619.0 316.0C621.8 319.1 624.4 322.3 626.9 325.5C629.4 328.7 631.8 331.9 634.0 335.0C636.2 338.1 638.3 340.6 640.2 343.8C642.1 347.0 643.8 350.7 645.5 354.0C647.2 357.3 648.6 360.8 650.2 363.8C651.8 366.8 653.4 369.5 655.0 372.0C656.6 374.5 659.2 377.6 660.1 378.7C660.9 376.9 663.4 371.8 665.0 368.0C666.6 364.2 668.2 360.2 670.0 356.0C671.8 351.8 674.0 347.0 676.0 343.0C678.0 339.0 679.8 335.5 682.0 332.0C684.2 328.5 687.8 323.7 689.0 322.0" fill="none" stroke="#f22a2a" stroke-width="2.6" stroke-dasharray="7.5 6" stroke-linejoin="round" stroke-linecap="butt"/>
<path d="M871.6 401.7C872.0 400.2 872.9 396.1 874.0 393.0C875.1 389.9 876.3 386.8 878.0 383.0C879.7 379.2 881.8 374.3 884.0 370.0C886.2 365.7 888.6 360.7 891.3 357.0C894.0 353.3 897.0 350.5 900.0 348.0C903.0 345.5 906.6 343.5 909.6 342.0C912.6 340.5 915.2 339.7 918.0 339.0C920.8 338.3 923.7 338.1 926.2 338.0C928.7 337.9 930.8 338.2 933.0 338.5C935.2 338.8 937.2 339.1 939.5 340.0C941.8 340.9 944.3 342.3 946.5 344.0C948.7 345.7 950.9 347.8 952.8 350.0C954.7 352.2 956.3 354.3 958.0 357.0C959.7 359.7 961.4 363.1 962.8 366.4C964.2 369.7 965.4 373.1 966.5 377.0C967.6 380.9 968.9 387.6 969.4 389.7C970.1 388.4 972.1 384.5 973.5 382.0C974.9 379.5 977.0 375.9 977.7 374.7" fill="none" stroke="#f22a2a" stroke-width="2.6" stroke-dasharray="7.5 6" stroke-linejoin="round" stroke-linecap="butt"/>
<path d="M84.0 795.0C84.2 793.7 84.8 789.8 85.5 787.0C86.2 784.2 87.2 780.8 88.0 778.0C88.8 775.2 89.4 772.7 90.6 770.0C91.8 767.3 93.4 764.7 95.0 762.0C96.6 759.3 98.1 756.8 100.0 754.0C101.9 751.2 103.9 748.5 106.4 745.0C108.9 741.5 112.1 736.7 115.0 733.0C117.9 729.3 121.0 726.2 124.0 723.0C127.0 719.8 129.3 717.2 132.8 714.0C136.3 710.8 140.6 706.7 145.0 703.5C149.4 700.3 155.0 697.2 159.2 695.0C163.4 692.8 166.5 691.3 170.0 690.0C173.5 688.7 176.5 687.8 180.0 687.0C183.5 686.2 187.1 685.7 190.8 685.5C194.5 685.3 197.6 685.5 202.0 686.0C206.4 686.5 212.9 687.5 217.2 688.7C221.5 689.9 224.5 691.2 228.0 693.0C231.5 694.8 234.8 696.6 238.3 699.3C241.8 702.0 245.5 705.5 249.0 709.0C252.5 712.5 256.7 716.4 259.4 720.4C262.1 724.4 263.2 728.4 265.0 733.0C266.8 737.6 268.5 742.6 270.0 748.0C271.5 753.4 273.2 762.4 273.8 765.3C274.7 763.1 277.2 756.0 279.0 752.0C280.8 748.0 282.3 745.2 284.3 741.5C286.3 737.8 288.8 733.5 291.0 730.0C293.2 726.5 296.4 722.0 297.5 720.4" fill="none" stroke="#f22a2a" stroke-width="2.6" stroke-dasharray="7.5 6" stroke-linejoin="round" stroke-linecap="butt"/>
<path d="M84.0 795.0C84.2 793.7 84.8 789.8 85.5 787.0C86.2 784.2 87.2 780.8 88.0 778.0C88.8 775.2 89.4 772.7 90.6 770.0C91.8 767.3 93.4 764.7 95.0 762.0C96.6 759.3 98.1 756.8 100.0 754.0C101.9 751.2 103.9 748.5 106.4 745.0C108.9 741.5 112.1 736.7 115.0 733.0C117.9 729.3 121.0 726.2 124.0 723.0C127.0 719.8 129.3 717.2 132.8 714.0C136.3 710.8 140.6 706.7 145.0 703.5C149.4 700.3 155.0 697.2 159.2 695.0C163.4 692.8 166.5 691.3 170.0 690.0C173.5 688.7 176.5 687.8 180.0 687.0C183.5 686.2 187.1 685.7 190.8 685.5C194.5 685.3 197.6 685.3 202.0 686.0C206.4 686.7 212.9 688.1 217.2 689.5C221.5 690.9 224.5 692.5 228.0 694.5C231.5 696.5 234.8 698.6 238.3 701.5C241.8 704.4 245.5 708.2 249.0 712.0C252.5 715.8 256.6 719.7 259.4 724.0C262.2 728.3 263.7 733.3 266.0 738.0C268.3 742.7 271.1 747.8 273.0 752.0C274.9 756.2 276.1 759.9 277.5 763.0C278.9 766.1 281.0 769.3 281.7 770.6C282.6 768.8 285.1 764.6 287.0 760.0C288.9 755.4 291.0 748.3 293.0 743.0C295.0 737.7 297.8 730.8 298.8 728.3" fill="none" stroke="#f22a2a" stroke-width="2.6" stroke-dasharray="7.5 6" stroke-linejoin="round" stroke-linecap="butt"/>
<path d="M84.0 795.0C84.2 793.7 84.8 789.8 85.5 787.0C86.2 784.2 87.1 780.8 88.0 778.0C88.9 775.2 89.8 772.7 91.0 770.0C92.2 767.3 93.5 764.7 95.0 762.0C96.5 759.3 98.1 756.8 100.0 754.0C101.9 751.2 104.3 748.3 106.4 745.0C108.5 741.7 110.3 737.2 112.5 734.0C114.7 730.8 117.2 728.4 119.6 726.0C122.0 723.6 124.3 721.5 127.0 719.5C129.7 717.5 132.8 715.6 136.0 714.0C139.2 712.4 142.0 711.2 146.0 710.0C150.0 708.8 155.6 707.2 160.0 706.5C164.4 705.8 168.5 705.5 172.3 705.5C176.1 705.5 179.5 705.9 183.0 706.5C186.5 707.1 190.2 707.9 193.5 709.0C196.8 710.1 199.9 711.3 203.0 713.0C206.1 714.7 209.1 716.5 211.9 719.0C214.7 721.5 217.3 724.5 220.0 728.0C222.7 731.5 225.6 736.3 227.8 740.0C230.0 743.7 231.2 746.7 233.0 750.0C234.8 753.3 236.9 757.0 238.3 760.0C239.7 763.0 240.4 765.6 241.5 768.0C242.6 770.4 244.3 773.4 244.9 774.5C245.7 772.8 248.0 767.3 249.5 764.0C251.0 760.7 252.0 758.5 254.1 754.7C256.2 750.9 259.4 745.4 262.0 741.0C264.6 736.6 268.7 730.4 270.0 728.3" fill="none" stroke="#f22a2a" stroke-width="2.6" stroke-dasharray="7.5 6" stroke-linejoin="round" stroke-linecap="butt"/>
<path d="M477.8 795.0C478.2 793.3 479.1 788.2 480.0 785.0C480.9 781.8 481.8 779.0 483.0 776.0C484.2 773.0 485.3 770.3 487.0 767.0C488.7 763.7 490.8 759.7 493.0 756.0C495.2 752.3 497.5 749.3 500.0 745.0C502.5 740.7 505.2 735.3 508.0 730.0C510.8 724.7 513.9 718.3 517.0 713.0C520.1 707.7 523.0 703.2 526.8 698.0C530.6 692.8 535.6 686.9 540.0 682.0C544.4 677.1 548.9 672.3 553.2 668.5C557.5 664.7 561.6 661.8 566.0 659.0C570.4 656.2 574.7 653.8 579.5 652.0C584.3 650.2 589.7 648.9 595.0 648.0C600.3 647.1 606.2 646.6 611.2 646.5C616.2 646.4 620.6 646.8 625.0 647.5C629.4 648.2 633.8 649.2 637.6 650.5C641.4 651.8 644.5 653.2 648.0 655.0C651.5 656.8 655.6 659.4 658.7 661.5C661.8 663.6 663.4 664.9 666.4 667.6C669.4 670.4 673.5 674.5 677.0 678.0C680.5 681.5 684.5 685.2 687.5 688.7C690.5 692.2 692.8 695.5 695.0 699.0C697.2 702.5 699.0 706.3 700.7 709.8C702.4 713.3 703.7 716.5 705.0 720.0C706.3 723.5 707.4 727.4 708.6 731.0C709.9 734.6 711.2 738.0 712.5 741.5C713.8 745.0 715.2 749.0 716.5 752.1C717.8 755.2 718.9 757.8 720.0 760.0C721.1 762.2 722.6 764.4 723.1 765.3C724.1 763.6 727.0 758.5 729.0 755.0C731.0 751.5 732.7 748.8 735.0 744.1C737.3 739.4 740.4 732.7 743.0 727.0C745.6 721.3 749.5 712.7 750.8 709.8" fill="none" stroke="#f22a2a" stroke-width="2.6" stroke-dasharray="7.5 6" stroke-linejoin="round" stroke-linecap="butt"/>
<path d="M477.8 795.0C478.2 793.3 479.1 788.2 480.0 785.0C480.9 781.8 481.8 779.0 483.0 776.0C484.2 773.0 485.3 770.3 487.0 767.0C488.7 763.7 490.8 759.7 493.0 756.0C495.2 752.3 497.5 749.3 500.0 745.0C502.5 740.7 505.2 735.3 508.0 730.0C510.8 724.7 513.9 718.3 517.0 713.0C520.1 707.7 523.0 703.2 526.8 698.0C530.6 692.8 535.6 685.8 540.0 682.0C544.4 678.2 548.9 677.8 553.2 675.5C557.5 673.2 561.6 670.2 566.0 668.0C570.4 665.8 575.2 663.8 579.5 662.5C583.8 661.2 587.6 660.5 592.0 660.0C596.4 659.5 601.4 659.5 605.9 659.7C610.4 660.0 614.6 660.6 619.0 661.5C623.4 662.4 628.0 663.4 632.3 665.0C636.6 666.6 641.0 668.8 645.0 671.0C649.0 673.2 652.4 675.5 656.0 678.5C659.6 681.5 663.4 685.4 666.4 689.0C669.4 692.6 671.4 696.1 674.0 700.0C676.6 703.9 680.0 708.5 682.2 712.5C684.4 716.5 685.7 720.4 687.0 724.0C688.3 727.6 689.1 729.8 690.1 734.0C691.1 738.2 692.1 743.8 693.0 749.0C693.9 754.2 695.0 762.6 695.4 765.3C696.2 763.4 698.2 758.0 700.0 754.0C701.8 750.0 703.7 746.0 706.0 741.5C708.3 737.0 711.4 731.8 714.0 727.0C716.6 722.2 720.5 714.9 721.8 712.5" fill="none" stroke="#f22a2a" stroke-width="2.6" stroke-dasharray="7.5 6" stroke-linejoin="round" stroke-linecap="butt"/>
<path d="M871.6 795.0C871.8 793.7 872.3 790.3 873.0 787.0C873.7 783.7 874.7 778.8 875.9 775.0C877.1 771.2 878.3 767.8 880.0 764.0C881.7 760.2 883.6 756.0 886.0 752.0C888.4 748.0 891.1 744.2 894.4 740.0C897.7 735.8 901.6 731.7 906.0 727.0C910.4 722.3 916.3 716.7 920.8 712.0C925.3 707.3 928.6 702.9 933.0 699.0C937.4 695.1 942.7 691.9 947.2 688.7C951.7 685.5 955.6 682.6 960.0 680.0C964.4 677.4 969.2 674.8 973.5 673.0C977.8 671.2 981.6 670.0 986.0 669.0C990.4 668.0 995.4 667.6 999.9 667.3C1004.4 667.0 1008.6 666.9 1013.0 667.0C1017.4 667.1 1021.8 667.0 1026.3 667.8C1030.8 668.6 1035.6 670.3 1040.0 672.0C1044.4 673.7 1049.0 675.9 1052.7 678.2C1056.4 680.5 1058.9 682.9 1062.0 686.0C1065.1 689.1 1068.5 693.2 1071.2 696.6C1073.9 700.0 1075.8 703.0 1078.0 706.5C1080.2 710.0 1082.7 714.2 1084.4 717.8C1086.2 721.4 1087.2 724.5 1088.5 728.0C1089.8 731.5 1091.0 734.7 1092.3 738.9C1093.6 743.1 1095.2 748.2 1096.5 753.0C1097.8 757.8 1099.7 765.4 1100.3 767.9C1100.9 766.9 1102.7 763.8 1104.0 762.0C1105.3 760.2 1107.5 758.1 1108.2 757.3" fill="none" stroke="#f22a2a" stroke-width="2.6" stroke-dasharray="7.5 6" stroke-linejoin="round" stroke-linecap="butt"/>
<path d="M84.0 401.7C84.3 400.4 85.2 396.4 85.8 394.0C86.4 391.6 87.1 389.5 87.8 387.4C88.5 385.3 89.1 383.4 89.7 381.5C90.3 379.6 90.9 377.7 91.6 375.9C92.3 374.1 93.2 372.3 94.0 370.5C94.8 368.7 95.6 366.9 96.4 365.3C97.2 363.7 98.0 362.2 98.8 360.8C99.6 359.4 100.4 358.1 101.3 356.6C102.2 355.1 103.0 353.4 104.0 352.0C105.0 350.6 105.9 349.3 107.0 347.9C108.1 346.5 109.4 344.8 110.5 343.4C111.6 342.0 112.7 340.5 113.8 339.3C114.9 338.1 115.9 337.2 117.0 336.2C118.1 335.2 119.3 334.4 120.5 333.5C121.7 332.6 123.0 331.8 124.3 331.0C125.6 330.2 126.9 329.4 128.2 328.7C129.5 328.0 130.7 327.3 132.0 326.7C133.3 326.1 134.2 325.5 135.9 324.8C137.6 324.1 140.0 323.1 142.0 322.4C144.0 321.7 145.9 321.1 148.0 320.6C150.1 320.1 152.3 319.4 154.8 319.2C157.3 319.0 160.2 318.9 163.0 319.3C165.8 319.7 168.6 320.3 171.4 321.5C174.2 322.7 177.2 324.6 180.0 326.5C182.8 328.4 185.7 330.8 188.0 333.0C190.3 335.2 192.1 337.5 194.0 340.0C195.9 342.5 198.0 345.3 199.7 348.0C201.4 350.7 202.6 353.2 204.0 356.0C205.4 358.8 206.9 362.0 208.0 365.0C209.1 368.0 209.8 371.0 210.5 374.0C211.2 377.0 212.2 381.5 212.5 383.0C213.4 381.7 216.1 378.2 218.0 375.0C219.9 371.8 222.0 367.8 224.0 364.0C226.0 360.2 228.2 355.7 230.0 352.0C231.8 348.3 233.3 345.4 235.0 342.0C236.7 338.6 239.1 333.2 239.9 331.5" fill="none" stroke="#ff1a1a" stroke-width="1.7" stroke-linejoin="round" stroke-linecap="butt"/>
<path d="M84.0 401.7C84.3 400.4 85.2 396.4 85.8 394.0C86.4 391.6 87.1 389.5 87.8 387.4C88.5 385.3 89.1 383.4 89.7 381.5C90.3 379.6 90.9 377.7 91.6 375.9C92.3 374.1 93.2 372.3 94.0 370.5C94.8 368.7 95.6 366.9 96.4 365.3C97.2 363.7 98.0 362.2 98.8 360.8C99.6 359.4 100.4 358.1 101.3 356.6C102.2 355.1 103.0 353.4 104.0 352.0C105.0 350.6 105.9 349.3 107.0 347.9C108.1 346.5 109.4 344.8 110.5 343.4C111.6 342.0 112.7 340.5 113.8 339.3C114.9 338.1 116.0 337.3 117.2 336.4C118.4 335.5 119.6 334.7 120.9 333.9C122.2 333.2 123.5 332.4 124.9 331.7C126.2 330.9 127.6 330.2 128.9 329.6C130.3 329.0 131.6 328.4 132.9 327.8C134.3 327.2 135.3 326.8 137.0 326.2C138.8 325.5 141.2 324.6 143.3 324.0C145.4 323.3 147.3 322.9 149.5 322.4C151.7 321.9 153.8 321.2 156.3 321.0C158.8 320.8 161.7 320.7 164.5 321.1C167.3 321.5 170.1 322.1 172.9 323.3C175.7 324.5 178.7 326.4 181.5 328.3C184.3 330.2 187.2 332.6 189.5 334.8C191.8 337.1 193.6 339.3 195.5 341.8C197.4 344.3 199.5 347.1 201.2 349.8C202.9 352.5 203.9 354.8 205.5 357.8C207.1 360.8 209.7 364.8 211.0 368.0C212.3 371.2 212.7 374.3 213.5 377.0C214.3 379.7 215.6 382.8 216.0 384.0C217.0 382.8 219.7 380.2 222.0 377.0C224.3 373.8 227.3 369.2 230.0 365.0C232.7 360.8 235.5 355.8 238.0 352.0C240.5 348.2 242.5 345.4 245.0 342.0C247.5 338.6 251.8 333.2 253.2 331.5" fill="none" stroke="#ff1a1a" stroke-width="1.7" stroke-linejoin="round" stroke-linecap="butt"/>
<path d="M84.0 401.7C84.3 400.4 85.2 396.4 85.8 394.0C86.4 391.6 87.1 389.5 87.8 387.4C88.5 385.3 89.1 383.4 89.7 381.5C90.3 379.6 90.9 377.7 91.6 375.9C92.3 374.1 93.2 372.3 94.0 370.5C94.8 368.7 95.6 366.9 96.4 365.3C97.2 363.7 98.0 362.2 98.8 360.8C99.6 359.4 100.4 358.1 101.3 356.6C102.2 355.1 103.0 353.4 104.0 352.0C105.0 350.6 105.9 349.3 107.0 347.9C108.1 346.5 109.4 344.8 110.5 343.4C111.6 342.0 112.7 340.4 113.8 339.3C114.9 338.2 116.1 337.5 117.4 336.6C118.6 335.8 119.9 335.1 121.2 334.4C122.6 333.7 124.0 333.0 125.4 332.3C126.8 331.7 128.3 331.0 129.7 330.4C131.1 329.9 132.5 329.4 133.9 328.9C135.3 328.4 136.4 328.0 138.2 327.4C139.9 326.9 142.5 326.0 144.6 325.5C146.8 324.9 148.8 324.6 151.0 324.1C153.2 323.6 155.3 322.9 157.8 322.7C160.3 322.5 163.2 322.4 166.0 322.8C168.8 323.2 171.6 323.8 174.4 325.0C177.2 326.2 180.2 328.1 183.0 330.0C185.8 331.9 188.7 334.2 191.0 336.5C193.3 338.8 195.1 341.0 197.0 343.5C198.9 346.0 201.0 348.8 202.7 351.5C204.4 354.2 205.1 356.6 207.0 359.5C208.9 362.4 212.4 365.9 214.0 369.0C215.6 372.1 215.7 375.7 216.5 378.0C217.3 380.3 218.6 382.2 219.0 383.0C220.2 381.5 223.5 377.7 226.0 374.0C228.5 370.3 231.3 365.3 234.0 361.0C236.7 356.7 239.7 351.7 242.0 348.0C244.3 344.3 245.9 342.0 248.0 339.0C250.1 336.0 253.7 331.3 254.8 329.8" fill="none" stroke="#ff1a1a" stroke-width="1.7" stroke-linejoin="round" stroke-linecap="butt"/>
<path d="M477.8 401.7C477.9 401.1 478.1 399.4 478.4 397.8C478.7 396.2 479.1 394.0 479.5 392.0C479.9 390.0 480.2 387.9 480.8 385.9C481.4 383.9 482.2 382.0 483.0 380.0C483.8 378.0 484.6 376.1 485.5 373.9C486.4 371.6 487.5 368.9 488.5 366.5C489.5 364.1 490.4 361.7 491.5 359.6C492.6 357.5 493.8 355.8 495.0 354.0C496.2 352.2 497.4 350.6 498.7 348.9C500.0 347.2 501.6 345.6 503.0 344.0C504.4 342.4 505.8 341.1 507.0 339.4C508.2 337.6 509.3 335.5 510.5 333.5C511.7 331.5 512.8 329.2 514.2 327.4C515.6 325.6 517.4 324.1 519.0 322.5C520.6 320.9 522.2 319.4 523.7 317.9C525.2 316.4 526.6 314.9 528.0 313.5C529.4 312.1 530.5 310.8 532.0 309.5C533.5 308.2 535.2 306.7 537.0 305.5C538.8 304.3 540.6 303.9 542.8 302.4C545.0 300.9 547.5 298.1 550.0 296.5C552.5 294.9 555.9 293.7 558.1 293.0C560.3 292.3 561.3 292.3 563.0 292.3C564.7 292.3 566.1 292.4 568.1 292.8C570.1 293.2 572.5 293.6 575.0 294.5C577.5 295.4 580.5 296.8 583.0 298.0C585.5 299.2 587.7 300.2 590.0 301.5C592.3 302.8 594.4 303.8 596.6 305.5C598.8 307.2 601.0 309.5 603.0 312.0C605.0 314.5 606.6 317.9 608.3 320.5C610.0 323.1 611.4 325.1 613.0 327.5C614.6 329.9 616.6 332.1 618.2 334.8C619.8 337.6 621.1 340.7 622.5 344.0C623.9 347.3 625.2 351.5 626.6 354.8C628.0 358.1 629.6 361.2 631.0 364.0C632.4 366.8 633.6 369.4 634.9 371.4C636.1 373.4 637.4 374.8 638.5 376.0C639.6 377.2 641.0 378.4 641.5 378.9C642.1 378.1 643.9 375.8 645.0 374.0C646.1 372.2 646.7 370.9 648.2 368.1C649.7 365.3 652.1 360.6 654.0 357.0C655.9 353.4 657.8 350.2 659.8 346.5C661.8 342.8 663.8 338.9 666.0 335.0C668.2 331.1 671.9 325.2 673.1 323.2" fill="none" stroke="#ff1a1a" stroke-width="1.7" stroke-linejoin="round" stroke-linecap="butt"/>
<path d="M477.8 401.7C477.9 401.1 478.1 399.4 478.4 397.8C478.7 396.2 479.1 394.0 479.5 392.0C479.9 390.0 480.2 387.9 480.8 385.9C481.4 383.9 482.2 382.0 483.0 380.0C483.8 378.0 484.6 376.1 485.5 373.9C486.4 371.6 487.5 368.9 488.5 366.5C489.5 364.1 490.4 361.7 491.5 359.6C492.6 357.5 493.8 355.8 495.0 354.0C496.2 352.2 497.4 350.6 498.7 348.9C500.0 347.2 501.6 345.6 503.0 344.0C504.4 342.4 505.8 341.1 507.0 339.4C508.2 337.6 509.3 335.5 510.5 333.5C511.7 331.5 512.8 329.2 514.2 327.4C515.6 325.6 517.4 324.1 519.0 322.5C520.6 320.9 522.2 319.4 523.7 317.9C525.2 316.4 526.6 314.7 528.0 313.5C529.4 312.3 529.8 312.1 532.0 310.5C534.2 308.9 538.5 305.8 541.5 304.0C544.5 302.2 547.2 300.6 550.0 299.5C552.8 298.4 555.4 297.8 558.1 297.5C560.8 297.2 563.6 297.4 566.4 297.8C569.2 298.2 572.2 299.2 575.0 300.0C577.8 300.8 580.2 301.2 583.0 302.5C585.8 303.8 589.2 305.7 592.0 307.5C594.8 309.3 597.7 311.0 600.0 313.2C602.3 315.4 604.0 317.7 606.0 320.5C608.0 323.3 610.2 326.8 612.0 330.0C613.8 333.2 615.3 336.7 617.0 340.0C618.7 343.3 620.4 346.5 622.0 350.0C623.6 353.5 625.2 357.8 626.5 361.0C627.8 364.2 628.9 366.8 630.0 369.0C631.1 371.2 632.0 372.8 633.0 374.0C634.0 375.2 635.5 376.1 636.0 376.5C636.8 375.1 639.3 371.2 641.0 368.0C642.7 364.8 644.2 361.3 646.0 357.0C647.8 352.7 650.0 347.4 652.0 342.0C654.0 336.6 657.1 327.7 658.1 324.8" fill="none" stroke="#ff1a1a" stroke-width="1.7" stroke-linejoin="round" stroke-linecap="butt"/>
<path d="M477.8 403.5C477.9 402.9 478.1 401.2 478.4 399.6C478.7 398.0 479.1 395.8 479.5 393.8C479.9 391.8 480.2 389.7 480.8 387.7C481.4 385.7 482.2 383.8 483.0 381.8C483.8 379.8 484.6 377.9 485.5 375.7C486.4 373.4 487.5 370.7 488.5 368.3C489.5 365.9 490.4 363.5 491.5 361.4C492.6 359.3 493.8 357.6 495.0 355.8C496.2 354.0 497.4 352.4 498.7 350.7C500.0 349.0 501.6 347.4 503.0 345.8C504.4 344.2 505.8 342.9 507.0 341.2C508.2 339.4 509.3 337.3 510.5 335.3C511.7 333.3 512.8 331.0 514.2 329.2C515.6 327.4 517.4 325.9 519.0 324.3C520.6 322.7 522.2 321.2 523.7 319.7C525.2 318.2 526.6 316.5 528.0 315.3C529.4 314.1 529.8 313.9 532.0 312.3C534.2 310.7 538.5 307.6 541.5 305.8C544.5 304.0 547.2 302.4 550.0 301.3C552.8 300.2 555.4 299.6 558.1 299.3C560.8 299.0 563.6 299.2 566.4 299.6C569.2 300.0 572.2 301.0 575.0 301.8C577.8 302.6 580.2 303.1 583.0 304.3C585.8 305.6 589.2 307.5 592.0 309.3C594.8 311.1 597.7 312.8 600.0 315.0C602.3 317.2 604.0 319.5 606.0 322.3C608.0 325.1 610.2 328.6 612.0 331.8C613.8 335.1 615.3 338.5 617.0 341.8C618.7 345.1 620.4 348.3 622.0 351.8C623.6 355.3 625.2 359.6 626.5 362.8C627.8 366.0 628.9 368.6 630.0 370.8C631.1 373.0 632.0 374.6 633.0 375.8C634.0 377.1 635.5 377.9 636.0 378.3C636.7 377.4 638.5 375.4 640.0 373.0C641.5 370.6 643.3 367.5 645.0 364.0C646.7 360.5 648.3 356.3 650.0 352.0C651.7 347.7 653.5 342.0 655.0 338.0C656.5 334.0 658.3 329.7 659.0 328.0" fill="none" stroke="#ff1a1a" stroke-width="1.7" stroke-linejoin="round" stroke-linecap="butt"/>
<path d="M871.6 401.7C871.9 400.2 872.8 395.8 873.5 393.0C874.2 390.2 874.9 388.2 876.0 385.0C877.1 381.8 878.6 377.3 880.0 374.0C881.4 370.7 882.6 368.7 884.6 365.0C886.6 361.3 889.2 356.2 892.0 352.0C894.8 347.8 898.5 343.3 901.3 340.0C904.1 336.7 906.2 334.3 909.0 332.0C911.8 329.7 915.1 327.8 917.9 326.0C920.7 324.2 923.2 322.8 926.0 321.5C928.8 320.2 932.0 319.2 934.5 318.3C937.0 317.4 938.8 316.8 941.0 316.4C943.2 315.9 945.7 315.7 947.8 315.6C949.9 315.6 951.6 315.8 953.5 316.1C955.4 316.4 957.1 316.6 959.4 317.4C961.7 318.2 964.7 319.5 967.5 321.0C970.3 322.5 973.7 324.6 976.1 326.5C978.5 328.4 980.1 330.3 982.0 332.5C983.9 334.7 985.8 336.8 987.7 339.8C989.6 342.8 991.6 346.6 993.5 350.5C995.4 354.4 997.8 359.4 999.3 363.1C1000.8 366.9 1001.5 369.7 1002.5 373.0C1003.5 376.3 1004.6 381.3 1005.0 383.0C1005.5 382.3 1006.9 380.6 1008.0 379.0C1009.1 377.4 1010.1 375.9 1011.5 373.5C1012.9 371.1 1015.8 366.2 1016.6 364.7" fill="none" stroke="#ff1a1a" stroke-width="1.7" stroke-linejoin="round" stroke-linecap="butt"/>
<path d="M871.6 401.7C871.9 400.2 872.8 395.8 873.5 393.0C874.2 390.2 874.9 388.2 876.0 385.0C877.1 381.8 878.6 377.3 880.0 374.0C881.4 370.7 882.6 368.7 884.6 365.0C886.6 361.3 889.2 356.2 892.0 352.0C894.8 347.8 898.5 343.3 901.3 340.0C904.1 336.7 906.2 334.0 909.0 332.0C911.8 330.0 915.1 329.3 917.9 328.0C920.7 326.7 923.2 325.1 926.0 324.0C928.8 322.9 932.0 322.2 934.5 321.5C937.0 320.8 938.8 320.3 941.0 320.0C943.2 319.7 945.5 319.7 947.8 319.8C950.1 319.9 952.6 320.0 955.0 320.5C957.4 321.0 959.5 321.8 962.0 323.0C964.5 324.2 967.3 325.7 970.0 327.5C972.7 329.3 975.7 331.8 978.0 334.0C980.3 336.2 982.0 337.8 984.0 341.0C986.0 344.2 988.2 349.3 990.0 353.1C991.8 356.9 993.1 360.7 994.5 364.0C995.9 367.3 997.1 370.0 998.3 373.0C999.5 376.0 1001.0 380.5 1001.5 382.0C1002.2 381.2 1004.2 379.0 1006.0 377.0C1007.8 375.0 1011.0 371.2 1012.0 370.0" fill="none" stroke="#ff1a1a" stroke-width="1.7" stroke-linejoin="round" stroke-linecap="butt"/>
<path d="M871.6 401.7C871.9 400.2 872.8 395.8 873.5 393.0C874.2 390.2 874.9 388.2 876.0 385.0C877.1 381.8 878.6 377.3 880.0 374.0C881.4 370.7 882.6 368.7 884.6 365.0C886.6 361.3 889.2 356.2 892.0 352.0C894.8 347.8 898.5 343.3 901.3 340.0C904.1 336.7 906.5 333.6 909.0 332.0C911.5 330.4 913.8 331.4 916.4 330.5C919.0 329.6 921.7 327.6 924.5 326.5C927.3 325.4 930.5 324.7 933.0 324.0C935.5 323.3 937.3 322.8 939.5 322.5C941.7 322.2 944.0 322.2 946.3 322.3C948.6 322.4 951.1 322.5 953.5 323.0C955.9 323.5 958.0 324.3 960.5 325.5C963.0 326.7 965.8 328.2 968.5 330.0C971.2 331.8 974.2 334.2 976.5 336.5C978.8 338.8 980.5 340.3 982.5 343.5C984.5 346.7 986.8 351.8 988.5 355.6C990.2 359.4 991.6 363.2 993.0 366.5C994.4 369.8 995.6 372.5 996.8 375.5C998.0 378.5 999.5 383.0 1000.0 384.5C1000.7 383.8 1002.5 381.8 1004.0 380.0C1005.5 378.2 1008.2 375.0 1009.0 374.0" fill="none" stroke="#ff1a1a" stroke-width="1.7" stroke-linejoin="round" stroke-linecap="butt"/>
<path d="M84.0 795.0C84.2 793.7 84.8 789.8 85.5 787.0C86.2 784.2 87.2 780.8 88.0 778.0C88.8 775.2 89.4 772.7 90.6 770.0C91.8 767.3 93.4 764.7 95.0 762.0C96.6 759.3 98.1 756.8 100.0 754.0C101.9 751.2 103.9 748.5 106.4 745.0C108.9 741.5 112.1 736.7 115.0 733.0C117.9 729.3 121.0 726.2 124.0 723.0C127.0 719.8 129.3 717.2 132.8 714.0C136.3 710.8 140.6 706.7 145.0 703.5C149.4 700.3 155.0 697.2 159.2 695.0C163.4 692.8 166.5 691.3 170.0 690.0C173.5 688.7 176.5 687.8 180.0 687.0C183.5 686.2 187.1 685.7 190.8 685.5C194.5 685.3 197.6 685.2 202.0 686.0C206.4 686.8 212.9 688.2 217.2 690.0C221.5 691.8 224.5 694.3 228.0 697.0C231.5 699.7 235.1 702.5 238.3 706.0C241.5 709.5 244.4 713.8 247.0 718.0C249.6 722.2 251.8 726.3 254.0 731.0C256.2 735.7 258.2 741.2 260.0 746.0C261.8 750.8 263.6 755.7 265.0 760.0C266.4 764.3 267.9 769.9 268.5 771.9C269.4 770.4 272.1 766.6 274.0 763.0C275.9 759.4 277.8 754.3 280.0 750.0C282.2 745.7 285.0 740.3 287.0 737.0C289.0 733.7 290.2 732.3 292.0 730.0C293.8 727.7 296.6 724.2 297.5 723.1" fill="none" stroke="#ff1a1a" stroke-width="1.7" stroke-linejoin="round" stroke-linecap="butt"/>
<path d="M84.0 795.0C84.2 793.7 84.8 789.8 85.5 787.0C86.2 784.2 87.2 780.8 88.0 778.0C88.8 775.2 89.4 772.7 90.6 770.0C91.8 767.3 93.4 764.7 95.0 762.0C96.6 759.3 98.1 756.8 100.0 754.0C101.9 751.2 103.9 748.5 106.4 745.0C108.9 741.5 112.1 736.7 115.0 733.0C117.9 729.3 121.0 726.2 124.0 723.0C127.0 719.8 129.3 717.2 132.8 714.0C136.3 710.8 140.6 706.7 145.0 703.5C149.4 700.3 155.0 697.2 159.2 695.0C163.4 692.8 166.5 691.3 170.0 690.0C173.5 688.7 176.1 687.7 180.0 687.0C183.9 686.3 189.2 686.1 193.3 686.0C197.4 685.9 200.1 685.8 204.5 686.5C208.9 687.2 215.4 688.7 219.7 690.5C224.0 692.3 227.0 694.8 230.5 697.5C234.0 700.2 237.6 703.0 240.8 706.5C244.0 710.0 246.9 714.3 249.5 718.5C252.1 722.7 254.3 726.8 256.5 731.5C258.7 736.2 260.7 741.7 262.5 746.5C264.3 751.3 266.1 756.2 267.5 760.5C268.9 764.8 269.9 770.7 271.0 772.4C272.1 774.1 273.3 770.9 273.8 770.6C274.7 769.2 277.1 765.4 279.0 762.0C280.9 758.6 282.8 754.2 285.0 750.0C287.2 745.8 289.7 741.0 292.0 737.0C294.3 733.0 297.7 727.6 298.8 725.7" fill="none" stroke="#ff1a1a" stroke-width="1.7" stroke-linejoin="round" stroke-linecap="butt"/>
<path d="M477.8 795.0C478.1 793.5 478.8 789.0 479.5 786.0C480.2 783.0 481.2 779.8 482.0 777.0C482.8 774.2 483.6 771.5 484.5 769.0C485.4 766.5 485.8 765.2 487.2 762.0C488.6 758.8 490.9 754.0 493.0 750.0C495.1 746.0 497.8 741.7 500.0 738.0C502.2 734.3 504.2 731.2 506.5 728.0C508.8 724.8 510.4 722.8 513.6 719.0C516.9 715.2 521.6 709.4 526.0 705.0C530.4 700.6 535.5 696.0 540.0 692.5C544.5 689.0 548.6 686.3 553.0 684.0C557.4 681.7 562.0 680.0 566.3 678.5C570.6 677.0 574.6 675.8 579.0 675.0C583.4 674.2 588.7 674.1 592.7 674.0C596.7 673.9 599.3 674.1 603.0 674.5C606.7 674.9 611.9 675.5 614.8 676.5C617.7 677.5 618.4 679.3 620.3 680.6C622.2 681.9 624.2 683.1 626.0 684.5C627.8 685.9 629.5 687.3 631.3 688.9C633.1 690.5 635.2 692.2 637.0 694.0C638.8 695.8 640.7 698.1 642.3 699.9C643.9 701.7 645.1 703.2 646.5 705.0C647.9 706.8 649.4 709.0 650.6 710.9C651.9 712.8 652.9 714.6 654.0 716.5C655.1 718.4 656.4 720.1 657.5 722.0C658.6 723.9 659.6 726.0 660.5 728.0C661.4 730.0 662.0 732.1 663.0 734.3C664.0 736.5 665.4 738.7 666.5 741.0C667.6 743.3 668.7 745.8 669.8 748.1C670.9 750.4 672.1 752.9 673.0 755.0C673.9 757.1 674.6 758.7 675.4 760.5C676.2 762.3 677.1 764.4 678.0 766.0C678.9 767.6 680.4 769.4 680.9 770.1C681.4 769.7 683.1 768.4 684.0 767.5C684.9 766.6 685.1 766.9 686.4 764.6C687.7 762.3 690.1 757.4 691.9 753.6C693.7 749.8 695.1 746.3 697.0 742.0C698.9 737.7 701.1 732.7 703.3 728.0C705.4 723.3 708.8 716.2 709.9 713.8" fill="none" stroke="#ff1a1a" stroke-width="1.7" stroke-linejoin="round" stroke-linecap="butt"/>
<path d="M477.8 795.0C478.1 793.5 478.8 789.0 479.5 786.0C480.2 783.0 481.2 779.8 482.0 777.0C482.8 774.2 483.6 771.5 484.5 769.0C485.4 766.5 485.8 765.2 487.2 762.0C488.6 758.8 490.9 754.0 493.0 750.0C495.1 746.0 497.8 741.7 500.0 738.0C502.2 734.3 504.2 731.2 506.5 728.0C508.8 724.8 510.4 722.8 513.6 719.0C516.9 715.2 521.6 709.4 526.0 705.0C530.4 700.6 535.5 696.0 540.0 692.5C544.5 689.0 548.6 686.3 553.0 684.0C557.4 681.7 562.0 680.0 566.3 678.5C570.6 677.0 574.6 675.8 579.0 675.0C583.4 674.2 588.7 674.1 592.7 674.0C596.7 673.9 599.3 674.1 603.0 674.5C606.7 674.9 612.1 674.9 614.8 676.5C617.5 678.1 617.4 681.4 619.0 684.0C620.6 686.6 622.9 690.9 624.4 692.4C625.9 693.9 626.9 693.0 628.0 693.2C629.1 693.4 630.0 692.9 631.3 693.5C632.6 694.1 634.4 695.7 636.0 697.0C637.6 698.3 639.4 699.7 640.9 701.3C642.4 702.9 643.6 704.7 645.0 706.5C646.4 708.3 647.9 710.3 649.2 712.3C650.5 714.3 651.6 716.4 652.8 718.5C653.9 720.6 655.1 722.6 656.1 724.7C657.1 726.8 658.1 728.9 659.0 731.0C659.9 733.1 660.8 735.2 661.6 737.1C662.4 739.0 663.1 740.7 663.8 742.5C664.5 744.3 665.0 746.6 665.7 748.1C666.4 749.6 667.1 750.6 668.0 751.5C668.9 752.4 670.5 753.2 671.0 753.5C672.0 752.1 674.8 748.1 677.0 745.0C679.2 741.9 681.5 738.3 684.0 735.0C686.5 731.7 689.2 728.3 692.0 725.0C694.8 721.7 699.2 716.8 700.7 715.1" fill="none" stroke="#ff1a1a" stroke-width="1.7" stroke-linejoin="round" stroke-linecap="butt"/>
<path d="M871.6 795.0C871.8 793.7 872.3 790.3 873.0 787.0C873.7 783.7 874.7 778.8 875.9 775.0C877.1 771.2 878.3 767.8 880.0 764.0C881.7 760.2 883.6 756.0 886.0 752.0C888.4 748.0 891.1 744.2 894.4 740.0C897.7 735.8 901.6 731.5 906.0 727.0C910.4 722.5 916.3 717.0 920.8 713.0C925.3 709.0 928.6 706.2 933.0 703.0C937.4 699.8 942.4 696.4 947.2 694.0C952.0 691.6 956.7 689.8 962.0 688.5C967.3 687.2 973.8 686.2 978.8 686.0C983.8 685.8 987.6 686.6 992.0 687.5C996.4 688.4 1001.2 689.8 1005.2 691.4C1009.2 693.0 1012.5 694.8 1016.0 697.0C1019.5 699.2 1023.3 701.9 1026.3 704.6C1029.3 707.3 1031.4 709.9 1034.0 713.0C1036.6 716.1 1039.8 719.7 1042.1 723.0C1044.3 726.3 1045.7 729.5 1047.5 733.0C1049.3 736.5 1051.1 740.4 1052.7 744.1C1054.3 747.8 1055.7 751.5 1057.0 755.0C1058.3 758.5 1059.7 762.5 1060.6 765.3C1061.5 768.1 1062.2 770.7 1062.5 771.8C1063.4 769.8 1066.1 763.7 1068.0 760.0C1069.9 756.3 1071.8 753.6 1073.9 749.4C1076.0 745.2 1078.3 739.6 1080.5 735.0C1082.7 730.4 1086.0 723.9 1087.1 721.7" fill="none" stroke="#ff1a1a" stroke-width="1.7" stroke-linejoin="round" stroke-linecap="butt"/>
<path d="M872.4 795.8C872.6 794.5 873.1 791.1 873.8 787.8C874.5 784.5 875.5 779.6 876.7 775.8C877.9 772.0 879.1 768.6 880.8 764.8C882.5 761.0 884.4 756.8 886.8 752.8C889.2 748.8 891.9 745.0 895.2 740.8C898.5 736.6 902.4 732.3 906.8 727.8C911.2 723.3 917.1 717.8 921.6 713.8C926.1 709.8 929.4 707.0 933.8 703.8C938.2 700.6 943.2 697.2 948.0 694.8C952.8 692.4 957.5 690.6 962.8 689.3C968.1 688.0 974.6 687.0 979.6 686.8C984.6 686.6 988.4 687.4 992.8 688.3C997.2 689.2 1002.0 690.6 1006.0 692.2C1010.0 693.8 1013.3 695.6 1016.8 697.8C1020.3 700.0 1024.1 702.7 1027.1 705.4C1030.1 708.1 1032.2 710.7 1034.8 713.8C1037.4 716.9 1040.6 720.5 1042.9 723.8C1045.1 727.1 1046.5 730.3 1048.3 733.8C1050.1 737.3 1051.9 741.2 1053.5 744.9C1055.1 748.6 1056.5 752.3 1057.8 755.8C1059.1 759.3 1060.5 763.3 1061.4 766.1C1062.3 768.9 1063.0 771.5 1063.3 772.6C1064.2 770.6 1066.9 764.5 1068.8 760.8C1070.7 757.1 1072.6 754.4 1074.7 750.2C1076.8 746.0 1079.1 740.4 1081.3 735.8C1083.5 731.2 1086.8 724.7 1087.9 722.5" fill="none" stroke="#ff1a1a" stroke-width="1.7" stroke-linejoin="round" stroke-linecap="butt"/>
<path d="M84.0 9.0H1265.4M84.0 401.7H1265.4M84.0 795.0H1265.4M84.0 9.0V795.0M477.8 9.0V795.0M871.6 9.0V795.0M1265.4 9.0V795.0" stroke="#606060" stroke-width="3" fill="none" stroke-linecap="square"/>
<text x="77" y="16.2" text-anchor="end" font-family="Liberation Sans" font-weight="bold" font-size="21.5" fill="#111">40</text>
<text x="77" y="114.5" text-anchor="end" font-family="Liberation Sans" font-weight="bold" font-size="21.5" fill="#111">30</text>
<text x="77" y="212.7" text-anchor="end" font-family="Liberation Sans" font-weight="bold" font-size="21.5" fill="#111">20</text>
<text x="77" y="310.9" text-anchor="end" font-family="Liberation Sans" font-weight="bold" font-size="21.5" fill="#111">10</text>
<text x="77" y="408.9" text-anchor="end" font-family="Liberation Sans" font-weight="bold" font-size="21.5" fill="#111">0</text>
<text x="77" y="507.1" text-anchor="end" font-family="Liberation Sans" font-weight="bold" font-size="21.5" fill="#111">30</text>
<text x="77" y="605.4" text-anchor="end" font-family="Liberation Sans" font-weight="bold" font-size="21.5" fill="#111">20</text>
<text x="77" y="703.7" text-anchor="end" font-family="Liberation Sans" font-weight="bold" font-size="21.5" fill="#111">10</text>
<text x="77" y="802.2" text-anchor="end" font-family="Liberation Sans" font-weight="bold" font-size="21.5" fill="#111">0</text>
<text x="84.0" y="820.5" text-anchor="middle" font-family="Liberation Sans" font-weight="bold" font-size="21.5" fill="#111">0</text>
<text x="182.4" y="820.5" text-anchor="middle" font-family="Liberation Sans" font-weight="bold" font-size="21.5" fill="#111">20</text>
<text x="280.9" y="820.5" text-anchor="middle" font-family="Liberation Sans" font-weight="bold" font-size="21.5" fill="#111">40</text>
<text x="379.4" y="820.5" text-anchor="middle" font-family="Liberation Sans" font-weight="bold" font-size="21.5" fill="#111">60</text>
<text x="477.8" y="820.5" text-anchor="middle" font-family="Liberation Sans" font-weight="bold" font-size="21.5" fill="#111">0</text>
<text x="576.2" y="820.5" text-anchor="middle" font-family="Liberation Sans" font-weight="bold" font-size="21.5" fill="#111">20</text>
<text x="674.7" y="820.5" text-anchor="middle" font-family="Liberation Sans" font-weight="bold" font-size="21.5" fill="#111">40</text>
<text x="773.2" y="820.5" text-anchor="middle" font-family="Liberation Sans" font-weight="bold" font-size="21.5" fill="#111">60</text>
<text x="871.6" y="820.5" text-anchor="middle" font-family="Liberation Sans" font-weight="bold" font-size="21.5" fill="#111">0</text>
<text x="970.1" y="820.5" text-anchor="middle" font-family="Liberation Sans" font-weight="bold" font-size="21.5" fill="#111">20</text>
<text x="1068.5" y="820.5" text-anchor="middle" font-family="Liberation Sans" font-weight="bold" font-size="21.5" fill="#111">40</text>
<text x="1167.0" y="820.5" text-anchor="middle" font-family="Liberation Sans" font-weight="bold" font-size="21.5" fill="#111">60</text>
<text x="1265.4" y="820.5" text-anchor="middle" font-family="Liberation Sans" font-weight="bold" font-size="21.5" fill="#111">80</text>
<text x="93.4" y="46.5" letter-spacing="1.5" font-family="Liberation Sans" font-size="32.5" fill="#111" stroke="#111" stroke-width="0.6">a)</text>
<text x="489.9" y="47" letter-spacing="1.5" font-family="Liberation Sans" font-size="32.5" fill="#111" stroke="#111" stroke-width="0.6">b)</text>
<text x="879.6" y="44.5" letter-spacing="1.5" font-family="Liberation Sans" font-size="32.5" fill="#111" stroke="#111" stroke-width="0.6">c)</text>
<text x="90.4" y="438" letter-spacing="1.5" font-family="Liberation Sans" font-size="32.5" fill="#111" stroke="#111" stroke-width="0.6">d)</text>
<text x="486.7" y="441.5" letter-spacing="1.5" font-family="Liberation Sans" font-size="32.5" fill="#111" stroke="#111" stroke-width="0.6">e)</text>
<text x="882.5" y="440" letter-spacing="1.5" font-family="Liberation Sans" font-size="32.5" fill="#111" stroke="#111" stroke-width="0.6">f)</text>
<rect x="188.2" y="15.2" width="286.6" height="182.3" fill="#fff" stroke="#444" stroke-width="2.8"/>
<line x1="198.3" y1="38.1" x2="303.0" y2="38.1" stroke="#333" stroke-width="2.5" />
<text x="313.6" y="45.1" font-family="Liberation Sans" font-weight="bold" font-size="18" letter-spacing="0" fill="#1a1a1a">2&#160;%&#160;VC</text>
<line x1="198.3" y1="65.5" x2="303.0" y2="65.5" stroke="#333" stroke-width="2.5" stroke-dasharray="9 4.5"/>
<text x="313.6" y="72.5" font-family="Liberation Sans" font-weight="bold" font-size="18" letter-spacing="0" fill="#1a1a1a">3&#160;%&#160;VC</text>
<line x1="198.3" y1="92.5" x2="303.0" y2="92.5" stroke="#2b2bff" stroke-width="2.5" />
<text x="313.6" y="99.5" font-family="Liberation Sans" font-weight="bold" font-size="18" letter-spacing="0" fill="#1a1a1a">1&#160;%&#160;DTD</text>
<line x1="198.3" y1="119.4" x2="303.0" y2="119.4" stroke="#2b2bff" stroke-width="2.5" stroke-dasharray="9 4.5"/>
<text x="313.6" y="126.4" font-family="Liberation Sans" font-weight="bold" font-size="18" letter-spacing="0" fill="#1a1a1a">2%&#160;DTD</text>
<line x1="198.3" y1="147.8" x2="303.0" y2="147.8" stroke="#ff3030" stroke-width="2.5" />
<text x="313.6" y="154.8" font-family="Liberation Sans" font-weight="bold" font-size="18" letter-spacing="0" fill="#1a1a1a">2&#160;%&#160;VC&#160;+&#160;1%&#160;DTD</text>
<line x1="198.3" y1="175.2" x2="303.0" y2="175.2" stroke="#ff3030" stroke-width="2.5" stroke-dasharray="9 4.5"/>
<text x="313.6" y="182.2" font-family="Liberation Sans" font-weight="bold" font-size="18" letter-spacing="0" fill="#1a1a1a">2&#160;%&#160;VC&#160;+&#160;2%&#160;DTD</text>
<rect x="582.6" y="13.5" width="286.5" height="179.2" fill="#fff" stroke="#444" stroke-width="2.8"/>
<line x1="593.0" y1="35.8" x2="697.0" y2="35.8" stroke="#333" stroke-width="2.5" />
<text x="707.6" y="42.8" font-family="Liberation Sans" font-weight="bold" font-size="18" letter-spacing="0" fill="#1a1a1a">2&#160;%&#160;VC</text>
<line x1="593.0" y1="62.6" x2="697.0" y2="62.6" stroke="#333" stroke-width="2.5" stroke-dasharray="9 4.5"/>
<text x="707.6" y="69.6" font-family="Liberation Sans" font-weight="bold" font-size="18" letter-spacing="0" fill="#1a1a1a">3&#160;%&#160;VC</text>
<line x1="593.0" y1="89.8" x2="697.0" y2="89.8" stroke="#2b2bff" stroke-width="2.5" />
<text x="707.6" y="96.8" font-family="Liberation Sans" font-weight="bold" font-size="18" letter-spacing="0" fill="#1a1a1a">1&#160;%&#160;TMS</text>
<line x1="593.0" y1="117.1" x2="697.0" y2="117.1" stroke="#2b2bff" stroke-width="2.5" stroke-dasharray="9 4.5"/>
<text x="707.6" y="124.1" font-family="Liberation Sans" font-weight="bold" font-size="18" letter-spacing="0" fill="#1a1a1a">2%&#160;TMS</text>
<line x1="593.0" y1="144.3" x2="697.0" y2="144.3" stroke="#ff3030" stroke-width="2.5" />
<text x="707.6" y="151.3" font-family="Liberation Sans" font-weight="bold" font-size="18" letter-spacing="0" fill="#1a1a1a">2&#160;%&#160;VC&#160;+&#160;1%&#160;TMS</text>
<line x1="593.0" y1="171.4" x2="697.0" y2="171.4" stroke="#ff3030" stroke-width="2.5" stroke-dasharray="9 4.5"/>
<text x="707.6" y="178.4" font-family="Liberation Sans" font-weight="bold" font-size="18" letter-spacing="0" fill="#1a1a1a">2&#160;%&#160;VC&#160;+&#160;2%&#160;TMS</text>
<rect x="955.8" y="11.5" width="306.3" height="184.3" fill="#fff" stroke="#444" stroke-width="2.8"/>
<line x1="966.9" y1="33.4" x2="1077.8" y2="33.4" stroke="#333" stroke-width="2.5" />
<text x="1088.1" y="40.4" font-family="Liberation Sans" font-weight="bold" font-size="18.5" letter-spacing="0.3" fill="#1a1a1a">2&#160;%&#160;VC</text>
<line x1="966.9" y1="61.7" x2="1077.8" y2="61.7" stroke="#333" stroke-width="2.5" stroke-dasharray="9 4.5"/>
<text x="1088.1" y="68.7" font-family="Liberation Sans" font-weight="bold" font-size="18.5" letter-spacing="0.3" fill="#1a1a1a">3&#160;%&#160;VC</text>
<line x1="966.9" y1="89.6" x2="1077.8" y2="89.6" stroke="#2b2bff" stroke-width="2.5" />
<text x="1088.1" y="96.6" font-family="Liberation Sans" font-weight="bold" font-size="18.5" letter-spacing="0.3" fill="#1a1a1a">1&#160;%&#160;PLS</text>
<line x1="966.9" y1="117.1" x2="1077.8" y2="117.1" stroke="#2b2bff" stroke-width="2.5" stroke-dasharray="9 4.5"/>
<text x="1088.1" y="124.1" font-family="Liberation Sans" font-weight="bold" font-size="18.5" letter-spacing="0.3" fill="#1a1a1a">2&#160;%&#160;PLS</text>
<line x1="966.9" y1="145.5" x2="1077.8" y2="145.5" stroke="#ff3030" stroke-width="2.5" />
<text x="1088.1" y="152.5" font-family="Liberation Sans" font-weight="bold" font-size="18.5" letter-spacing="0.3" fill="#1a1a1a">2&#160;%&#160;VC&#160;+&#160;1&#160;%&#160;PLS</text>
<line x1="966.9" y1="173.1" x2="1077.8" y2="173.1" stroke="#ff3030" stroke-width="2.5" stroke-dasharray="9 4.5"/>
<text x="1088.1" y="180.1" font-family="Liberation Sans" font-weight="bold" font-size="18.5" letter-spacing="0.3" fill="#1a1a1a">2&#160;%&#160;VC&#160;+&#160;2&#160;%&#160;PLS</text>
<rect x="193.8" y="406.9" width="279.3" height="176.8" fill="#fff" stroke="#444" stroke-width="2.8"/>
<line x1="204.6" y1="428.1" x2="306.0" y2="428.1" stroke="#333" stroke-width="2.5" />
<text x="316.4" y="435.1" font-family="Liberation Sans" font-weight="bold" font-size="18" letter-spacing="0" fill="#1a1a1a">2&#160;%&#160;VC</text>
<line x1="204.6" y1="455.3" x2="306.0" y2="455.3" stroke="#333" stroke-width="2.5" stroke-dasharray="9 4.5"/>
<text x="316.4" y="462.3" font-family="Liberation Sans" font-weight="bold" font-size="18" letter-spacing="0" fill="#1a1a1a">3&#160;%&#160;VC</text>
<line x1="204.6" y1="481.8" x2="306.0" y2="481.8" stroke="#2b2bff" stroke-width="2.5" />
<text x="316.4" y="488.8" font-family="Liberation Sans" font-weight="bold" font-size="18" letter-spacing="0" fill="#1a1a1a">1&#160;%&#160;DTD</text>
<line x1="204.6" y1="508.3" x2="306.0" y2="508.3" stroke="#2b2bff" stroke-width="2.5" stroke-dasharray="9 4.5"/>
<text x="316.4" y="515.3" font-family="Liberation Sans" font-weight="bold" font-size="18" letter-spacing="0" fill="#1a1a1a">2%&#160;DTD</text>
<line x1="204.6" y1="535.3" x2="306.0" y2="535.3" stroke="#ff3030" stroke-width="2.5" />
<text x="316.4" y="542.3" font-family="Liberation Sans" font-weight="bold" font-size="18" letter-spacing="0" fill="#1a1a1a">2&#160;%&#160;VC&#160;+&#160;1%&#160;DTD</text>
<line x1="204.6" y1="562.0" x2="306.0" y2="562.0" stroke="#ff3030" stroke-width="2.5" stroke-dasharray="9 4.5"/>
<text x="316.4" y="569.0" font-family="Liberation Sans" font-weight="bold" font-size="18" letter-spacing="0" fill="#1a1a1a">2&#160;%&#160;VC&#160;+&#160;2%&#160;DTD</text>
<rect x="588.2" y="404.7" width="282.3" height="179.3" fill="#fff" stroke="#444" stroke-width="2.8"/>
<line x1="596.9" y1="427.0" x2="700.7" y2="427.0" stroke="#333" stroke-width="2.5" />
<text x="710.1" y="434.0" font-family="Liberation Sans" font-weight="bold" font-size="18" letter-spacing="0" fill="#1a1a1a">2&#160;%&#160;VC</text>
<line x1="596.9" y1="454.4" x2="700.7" y2="454.4" stroke="#333" stroke-width="2.5" stroke-dasharray="9 4.5"/>
<text x="710.1" y="461.4" font-family="Liberation Sans" font-weight="bold" font-size="18" letter-spacing="0" fill="#1a1a1a">3&#160;%&#160;VC</text>
<line x1="596.9" y1="481.3" x2="700.7" y2="481.3" stroke="#2b2bff" stroke-width="2.5" />
<text x="710.1" y="488.3" font-family="Liberation Sans" font-weight="bold" font-size="18" letter-spacing="0" fill="#1a1a1a">1&#160;%&#160;TMS</text>
<line x1="596.9" y1="508.3" x2="700.7" y2="508.3" stroke="#2b2bff" stroke-width="2.5" stroke-dasharray="9 4.5"/>
<text x="710.1" y="515.3" font-family="Liberation Sans" font-weight="bold" font-size="18" letter-spacing="0" fill="#1a1a1a">2%&#160;TMS</text>
<line x1="596.9" y1="535.5" x2="700.7" y2="535.5" stroke="#ff3030" stroke-width="2.5" />
<text x="710.1" y="542.5" font-family="Liberation Sans" font-weight="bold" font-size="18" letter-spacing="0" fill="#1a1a1a">2&#160;%&#160;VC&#160;+&#160;1%&#160;TMS</text>
<line x1="596.9" y1="562.2" x2="700.7" y2="562.2" stroke="#ff3030" stroke-width="2.5" stroke-dasharray="9 4.5"/>
<text x="710.1" y="569.2" font-family="Liberation Sans" font-weight="bold" font-size="18" letter-spacing="0" fill="#1a1a1a">2&#160;%&#160;VC&#160;+&#160;2%&#160;TMS</text>
<rect x="980.7" y="403.6" width="282.3" height="179.9" fill="#fff" stroke="#aaa" stroke-width="1.5"/>
<line x1="991.4" y1="425.7" x2="1092.7" y2="425.7" stroke="#333" stroke-width="2.5" />
<text x="1102.2" y="432.7" font-family="Liberation Sans" font-weight="bold" font-size="17.7" letter-spacing="0" fill="#1a1a1a">2&#160;%&#160;VC</text>
<line x1="991.4" y1="452.9" x2="1092.7" y2="452.9" stroke="#333" stroke-width="2.5" stroke-dasharray="9 4.5"/>
<text x="1102.2" y="459.9" font-family="Liberation Sans" font-weight="bold" font-size="17.7" letter-spacing="0" fill="#1a1a1a">3&#160;%&#160;VC</text>
<line x1="991.4" y1="479.8" x2="1092.7" y2="479.8" stroke="#2b2bff" stroke-width="2.5" />
<text x="1102.2" y="486.8" font-family="Liberation Sans" font-weight="bold" font-size="17.7" letter-spacing="0" fill="#1a1a1a">1&#160;%&#160;PLS</text>
<line x1="991.4" y1="507.2" x2="1092.7" y2="507.2" stroke="#2b2bff" stroke-width="2.5" stroke-dasharray="9 4.5"/>
<text x="1102.2" y="514.2" font-family="Liberation Sans" font-weight="bold" font-size="17.7" letter-spacing="0" fill="#1a1a1a">2&#160;%&#160;PLS</text>
<line x1="991.4" y1="533.9" x2="1092.7" y2="533.9" stroke="#ff3030" stroke-width="2.5" />
<text x="1102.2" y="540.9" font-family="Liberation Sans" font-weight="bold" font-size="17.7" letter-spacing="0" fill="#1a1a1a">2&#160;%&#160;VC&#160;+&#160;1&#160;%&#160;PLS</text>
<line x1="991.4" y1="560.8" x2="1092.7" y2="560.8" stroke="#ff3030" stroke-width="2.5" stroke-dasharray="9 4.5"/>
<text x="1102.2" y="567.8" font-family="Liberation Sans" font-weight="bold" font-size="17.7" letter-spacing="0" fill="#1a1a1a">2&#160;%&#160;VC&#160;+&#160;2&#160;%&#160;PLS</text>
<path d="M149.6 9.0L149.6 13.0M215.3 9.0L215.3 14.0M280.9 9.0L280.9 13.0M346.5 9.0L346.5 14.0M412.2 9.0L412.2 13.0M543.4 9.0L543.4 13.0M609.1 9.0L609.1 14.0M674.7 9.0L674.7 13.0M740.3 9.0L740.3 14.0M806.0 9.0L806.0 13.0M937.2 9.0L937.2 13.0M1002.9 9.0L1002.9 14.0M1068.5 9.0L1068.5 13.0M1134.1 9.0L1134.1 14.0M1199.8 9.0L1199.8 13.0M133.2 401.7L133.2 394.7M133.2 795.0L133.2 788.0M182.4 401.7L182.4 394.7M182.4 795.0L182.4 788.0M231.7 401.7L231.7 394.7M231.7 795.0L231.7 788.0M280.9 401.7L280.9 394.7M280.9 795.0L280.9 788.0M330.1 401.7L330.1 394.7M330.1 795.0L330.1 788.0M379.4 401.7L379.4 394.7M379.4 795.0L379.4 788.0M428.6 401.7L428.6 394.7M428.6 795.0L428.6 788.0M527.0 401.7L527.0 394.7M527.0 795.0L527.0 788.0M576.2 401.7L576.2 394.7M576.2 795.0L576.2 788.0M625.5 401.7L625.5 394.7M625.5 795.0L625.5 788.0M674.7 401.7L674.7 394.7M674.7 795.0L674.7 788.0M723.9 401.7L723.9 394.7M723.9 795.0L723.9 788.0M773.2 401.7L773.2 394.7M773.2 795.0L773.2 788.0M822.4 401.7L822.4 394.7M822.4 795.0L822.4 788.0M920.8 401.7L920.8 394.7M920.8 795.0L920.8 788.0M970.1 401.7L970.1 394.7M970.1 795.0L970.1 788.0M1019.3 401.7L1019.3 394.7M1019.3 795.0L1019.3 788.0M1068.5 401.7L1068.5 394.7M1068.5 795.0L1068.5 788.0M1117.7 401.7L1117.7 394.7M1117.7 795.0L1117.7 788.0M1167.0 401.7L1167.0 394.7M1167.0 795.0L1167.0 788.0M1216.2 401.7L1216.2 394.7M1216.2 795.0L1216.2 788.0M84.0 352.9L87.5 352.9M477.8 352.9L481.3 352.9M871.6 352.9L875.1 352.9M1265.4 352.9L1261.9 352.9M84.0 303.8L90.0 303.8M477.8 303.8L483.8 303.8M871.6 303.8L877.6 303.8M1265.4 303.8L1259.4 303.8M84.0 254.6L87.5 254.6M477.8 254.6L481.3 254.6M871.6 254.6L875.1 254.6M1265.4 254.6L1261.9 254.6M84.0 205.5L90.0 205.5M477.8 205.5L483.8 205.5M871.6 205.5L877.6 205.5M1265.4 205.5L1259.4 205.5M84.0 156.4L87.5 156.4M477.8 156.4L481.3 156.4M871.6 156.4L875.1 156.4M1265.4 156.4L1261.9 156.4M84.0 107.2L90.0 107.2M477.8 107.2L483.8 107.2M871.6 107.2L877.6 107.2M1265.4 107.2L1259.4 107.2M84.0 58.1L87.5 58.1M477.8 58.1L481.3 58.1M871.6 58.1L875.1 58.1M1265.4 58.1L1261.9 58.1M84.0 745.6L87.5 745.6M477.8 745.6L481.3 745.6M871.6 745.6L875.1 745.6M1265.4 745.6L1261.9 745.6M84.0 696.5L90.0 696.5M477.8 696.5L483.8 696.5M871.6 696.5L877.6 696.5M1265.4 696.5L1259.4 696.5M84.0 647.3L87.5 647.3M477.8 647.3L481.3 647.3M871.6 647.3L875.1 647.3M1265.4 647.3L1261.9 647.3M84.0 598.2L90.0 598.2M477.8 598.2L483.8 598.2M871.6 598.2L877.6 598.2M1265.4 598.2L1259.4 598.2M84.0 549.1L87.5 549.1M477.8 549.1L481.3 549.1M871.6 549.1L875.1 549.1M1265.4 549.1L1261.9 549.1M84.0 500.0L90.0 500.0M477.8 500.0L483.8 500.0M871.6 500.0L877.6 500.0M1265.4 500.0L1259.4 500.0M84.0 450.8L87.5 450.8M477.8 450.8L481.3 450.8M871.6 450.8L875.1 450.8M1265.4 450.8L1261.9 450.8" stroke="#222" stroke-width="2" fill="none"/>
<text x="591" y="862" font-family="Liberation Sans" font-weight="bold" font-size="31.5" fill="#111">Zr (<tspan font-weight="normal" font-family="Liberation Serif" font-size="33">&#937;</tspan><tspan font-weight="normal">&#183;</tspan>cm<tspan font-size="21" font-weight="normal" dy="-8">2</tspan><tspan dy="8">)</tspan></text>
<text transform="translate(27,486) rotate(-90)" x="0" y="0" font-family="Liberation Sans" font-weight="bold" font-size="31.5" fill="#111">&#8211;Zj (<tspan font-weight="normal" font-family="Liberation Serif" font-size="33">&#937;</tspan><tspan font-weight="normal">&#183;</tspan>cm<tspan font-size="21" font-weight="normal" dy="-8">2</tspan><tspan dy="8">)</tspan></text>
</svg>
</body></html>
